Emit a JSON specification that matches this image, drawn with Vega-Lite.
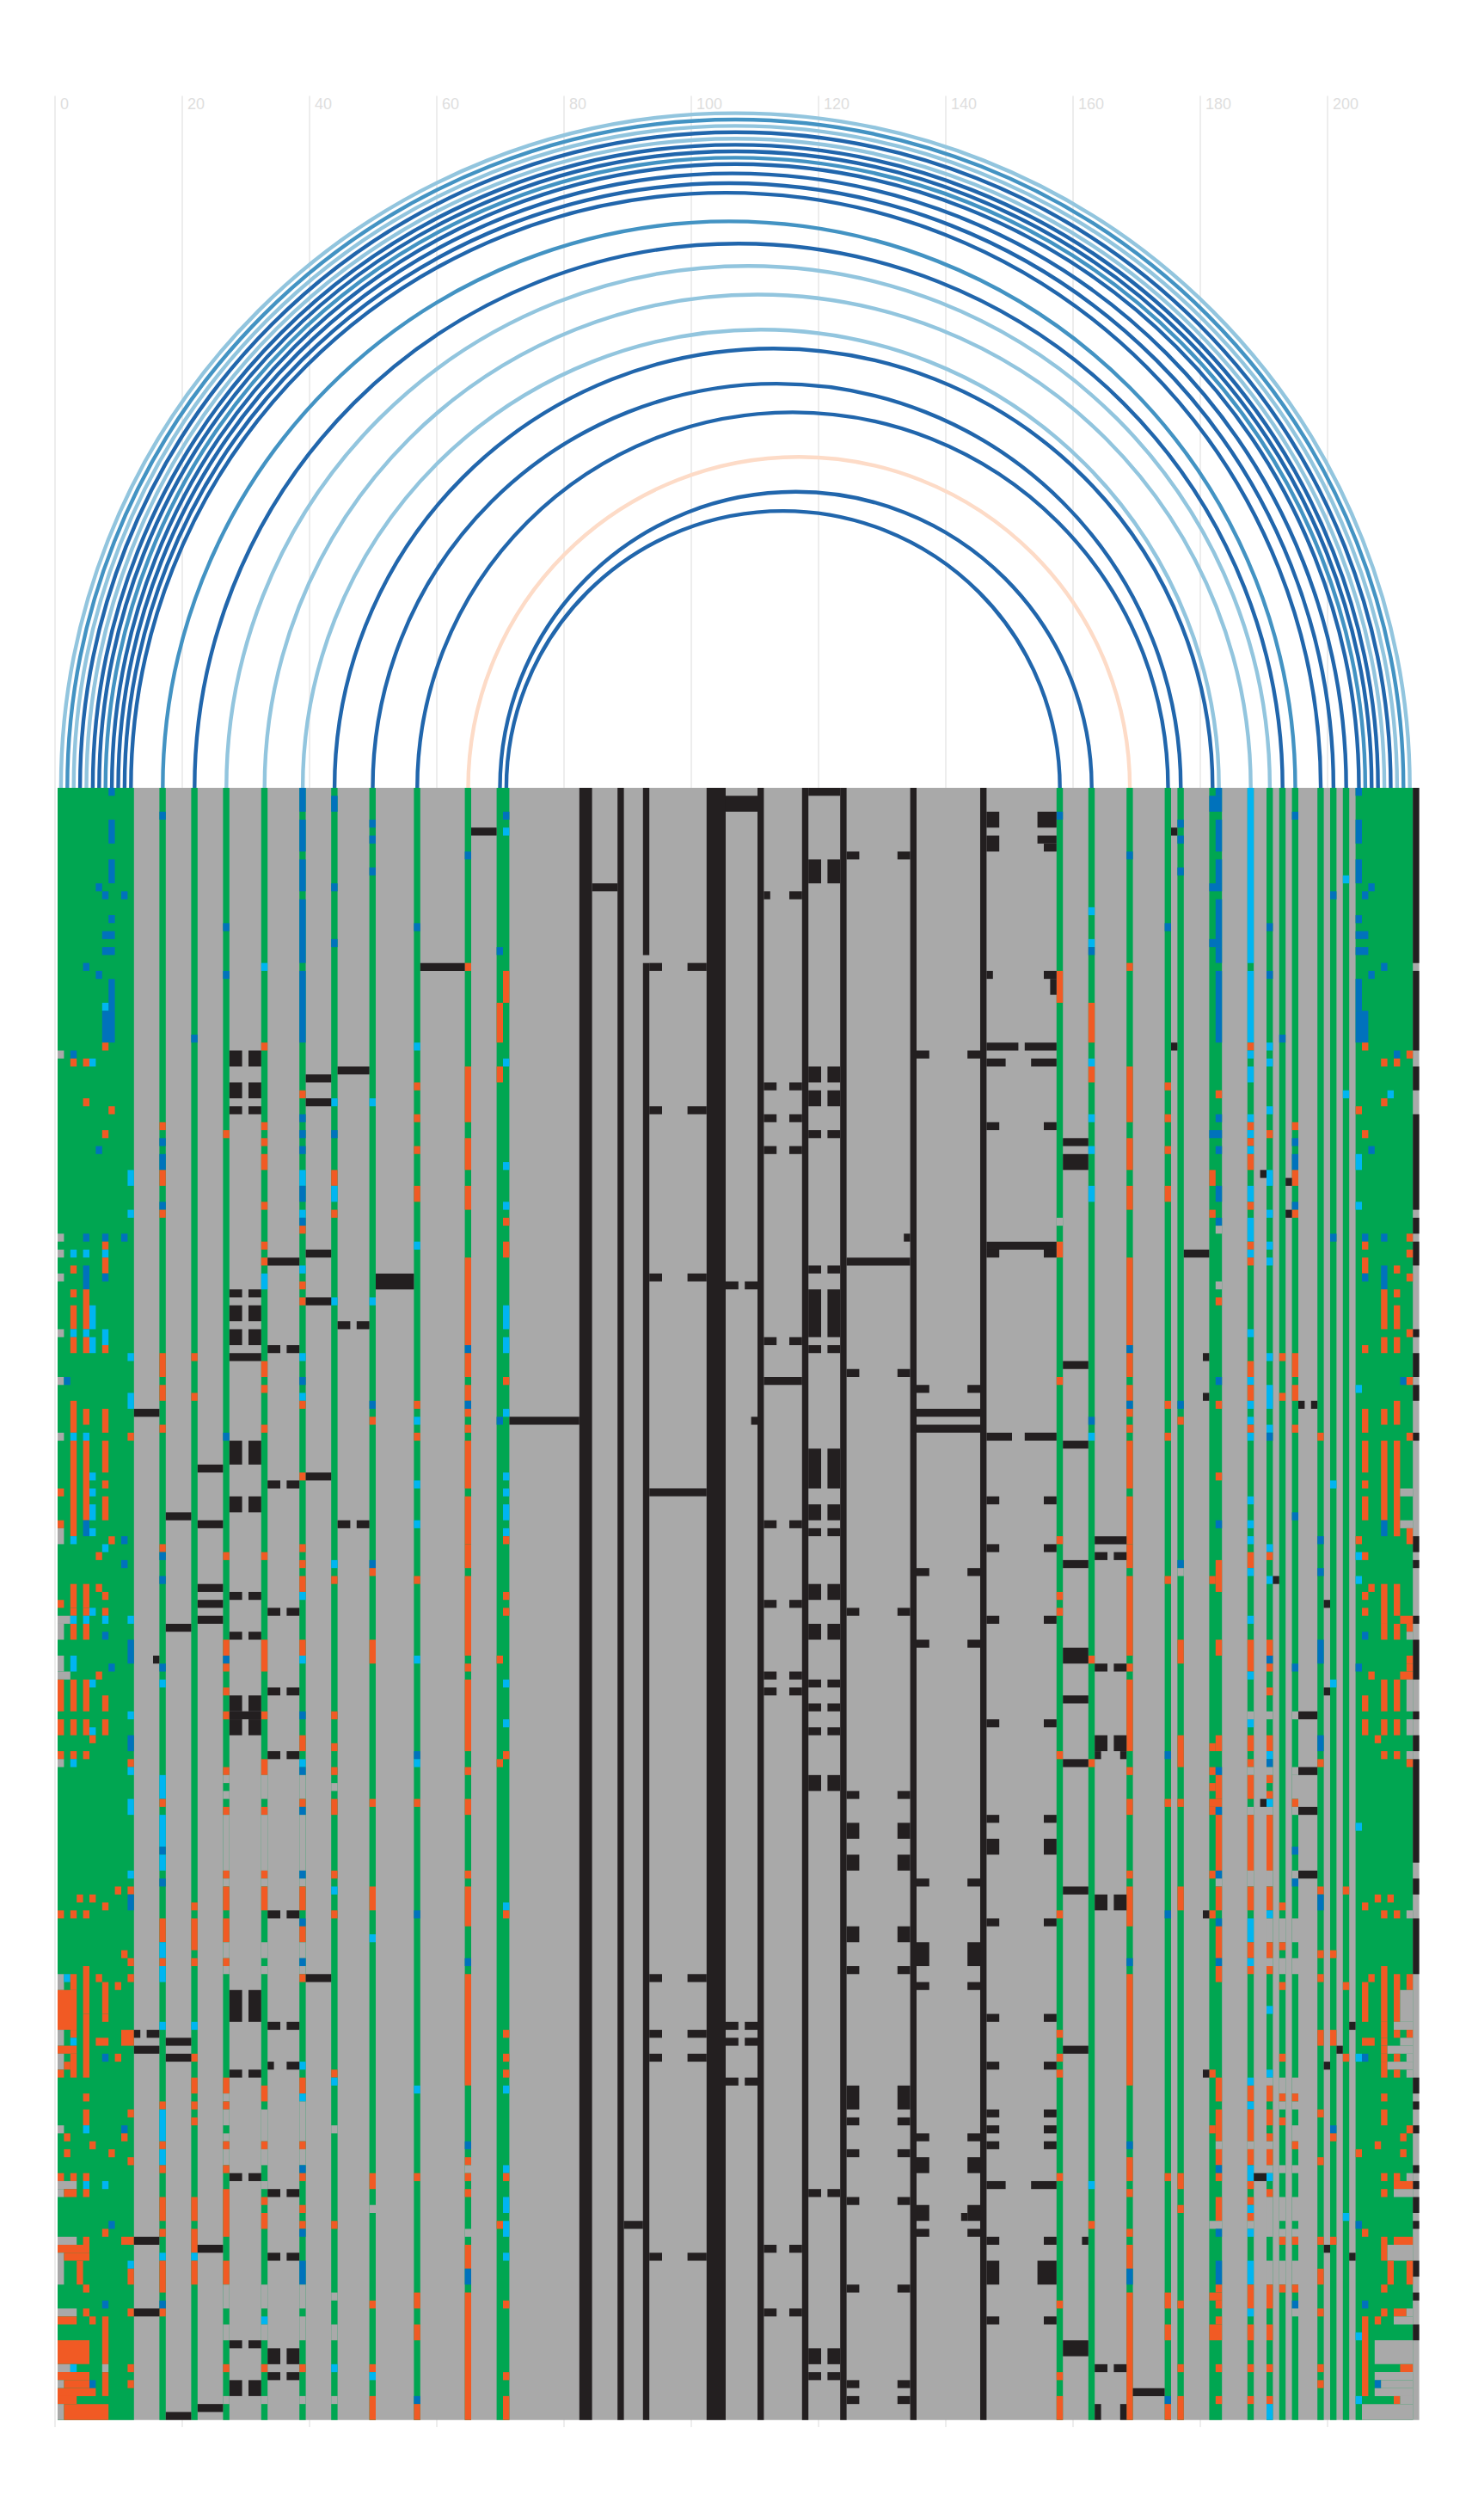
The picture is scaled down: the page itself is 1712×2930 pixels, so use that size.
{"$schema":"https://vega.github.io/schema/vega-lite/v6.json","autosize":{"type":"none"},"padding":{"left":63.5,"top":111,"right":0,"bottom":0},"width":1587.3,"height":2711,"background":"white","view":{"stroke":null},
"datasets":{"arcs":[
{"m":107,"r":106,"t":"l","y":0},{"m":107,"r":105,"t":"m","y":0},{"m":107,"r":104,"t":"l","y":0},{"m":107,"r":103,"t":"d","y":0},{"m":107,"r":102,"t":"l","y":0},{"m":107,"r":101,"t":"d","y":0},{"m":107,"r":100,"t":"d","y":0},{"m":107,"r":99,"t":"m","y":0},{"m":107,"r":98,"t":"d","y":0},{"m":106.5,"r":96.5,"t":"d","y":0},{"m":106,"r":95,"t":"d","y":0},{"m":105.5,"r":93.5,"t":"d","y":0},{"m":106,"r":89,"t":"m","y":0},{"m":107.5,"r":85.5,"t":"d","y":0},{"m":109,"r":82,"t":"l","y":0},{"m":110.5,"r":77.5,"t":"l","y":0},{"m":111,"r":72,"t":"l","y":0},{"m":113,"r":69,"t":"d","y":0},{"m":113.5,"r":63.5,"t":"d","y":0},{"m":116,"r":59,"t":"d","y":0},{"m":117,"r":52,"t":"p","y":0},{"m":116.5,"r":46.5,"t":"d","y":0},{"m":114.5,"r":43.5,"t":"d","y":0}],
"cells":[
{"x":0,"X":214,"y":0,"Y":205,"k":"a"},
{"x":0,"X":12,"y":0,"Y":205,"k":"g"},{"x":16,"X":17,"y":0,"Y":205,"k":"g"},{"x":21,"X":22,"y":0,"Y":205,"k":"g"},{"x":26,"X":27,"y":0,"Y":205,"k":"g"},{"x":32,"X":33,"y":0,"Y":205,"k":"g"},{"x":38,"X":39,"y":0,"Y":205,"k":"g"},{"x":43,"X":44,"y":0,"Y":205,"k":"g"},{"x":49,"X":50,"y":0,"Y":205,"k":"g"},{"x":56,"X":57,"y":0,"Y":205,"k":"g"},{"x":64,"X":65,"y":0,"Y":205,"k":"g"},{"x":69,"X":71,"y":0,"Y":205,"k":"g"},{"x":157,"X":158,"y":0,"Y":205,"k":"g"},{"x":162,"X":163,"y":0,"Y":205,"k":"g"},{"x":168,"X":169,"y":0,"Y":205,"k":"g"},{"x":174,"X":175,"y":0,"Y":205,"k":"g"},{"x":176,"X":177,"y":0,"Y":205,"k":"g"},{"x":181,"X":183,"y":0,"Y":205,"k":"g"},{"x":187,"X":188,"y":0,"Y":205,"k":"g"},{"x":190,"X":191,"y":0,"Y":205,"k":"g"},{"x":192,"X":193,"y":0,"Y":205,"k":"g"},{"x":194,"X":195,"y":0,"Y":205,"k":"g"},{"x":198,"X":199,"y":0,"Y":205,"k":"g"},{"x":200,"X":201,"y":0,"Y":205,"k":"g"},{"x":202,"X":203,"y":0,"Y":205,"k":"g"},{"x":204,"X":213,"y":0,"Y":205,"k":"g"},
{"x":82,"X":84,"y":0,"Y":205,"k":"k"},{"x":88,"X":89,"y":0,"Y":205,"k":"k"},{"x":92,"X":93,"y":0,"Y":21,"k":"k"},{"x":92,"X":93,"y":22,"Y":205,"k":"k"},{"x":102,"X":105,"y":0,"Y":205,"k":"k"},{"x":110,"X":111,"y":0,"Y":205,"k":"k"},{"x":117,"X":118,"y":0,"Y":205,"k":"k"},{"x":123,"X":124,"y":0,"Y":205,"k":"k"},{"x":134,"X":135,"y":0,"Y":205,"k":"k"},{"x":145,"X":146,"y":0,"Y":205,"k":"k"},
{"x":213,"X":214,"y":0,"Y":22,"k":"k"},{"x":213,"X":214,"y":23,"Y":33,"k":"k"},{"x":213,"X":214,"y":35,"Y":38,"k":"k"},{"x":213,"X":214,"y":41,"Y":53,"k":"k"},{"x":213,"X":214,"y":54,"Y":56,"k":"k"},{"x":213,"X":214,"y":57,"Y":60,"k":"k"},{"x":213,"X":214,"y":68,"Y":69,"k":"k"},{"x":213,"X":214,"y":71,"Y":74,"k":"k"},{"x":213,"X":214,"y":75,"Y":77,"k":"k"},{"x":213,"X":214,"y":81,"Y":82,"k":"k"},{"x":213,"X":214,"y":94,"Y":96,"k":"k"},{"x":213,"X":214,"y":97,"Y":98,"k":"k"},{"x":213,"X":214,"y":104,"Y":105,"k":"k"},{"x":213,"X":214,"y":107,"Y":112,"k":"k"},{"x":213,"X":214,"y":116,"Y":117,"k":"k"},{"x":213,"X":214,"y":119,"Y":121,"k":"k"},{"x":213,"X":214,"y":122,"Y":135,"k":"k"},{"x":213,"X":214,"y":137,"Y":139,"k":"k"},{"x":213,"X":214,"y":142,"Y":149,"k":"k"},{"x":213,"X":214,"y":162,"Y":164,"k":"k"},{"x":213,"X":214,"y":165,"Y":166,"k":"k"},{"x":213,"X":214,"y":168,"Y":169,"k":"k"},{"x":213,"X":214,"y":173,"Y":174,"k":"k"},{"x":213,"X":214,"y":175,"Y":176,"k":"k"},{"x":213,"X":214,"y":177,"Y":179,"k":"k"},{"x":213,"X":214,"y":180,"Y":181,"k":"k"},{"x":213,"X":214,"y":185,"Y":187,"k":"k"},{"x":213,"X":214,"y":189,"Y":190,"k":"k"},{"x":213,"X":214,"y":193,"Y":195,"k":"k"},
{"x":8,"X":9,"y":0,"Y":1,"k":"b"},{"x":8,"X":9,"y":4,"Y":7,"k":"b"},{"x":8,"X":9,"y":9,"Y":12,"k":"b"},{"x":6,"X":7,"y":12,"Y":13,"k":"b"},{"x":7,"X":8,"y":13,"Y":14,"k":"b"},{"x":10,"X":11,"y":13,"Y":14,"k":"b"},{"x":8,"X":9,"y":16,"Y":17,"k":"b"},{"x":7,"X":9,"y":18,"Y":19,"k":"b"},{"x":7,"X":9,"y":20,"Y":21,"k":"b"},{"x":4,"X":5,"y":22,"Y":23,"k":"b"},{"x":6,"X":7,"y":23,"Y":24,"k":"b"},{"x":8,"X":9,"y":24,"Y":28,"k":"b"},{"x":7,"X":8,"y":27,"Y":28,"k":"l"},{"x":7,"X":9,"y":28,"Y":32,"k":"b"},{"x":7,"X":8,"y":32,"Y":33,"k":"o"},{"x":0,"X":1,"y":33,"Y":34,"k":"a"},{"x":2,"X":3,"y":33,"Y":34,"k":"b"},{"x":2,"X":3,"y":34,"Y":35,"k":"o"},{"x":4,"X":5,"y":34,"Y":35,"k":"o"},{"x":5,"X":6,"y":34,"Y":35,"k":"l"},{"x":4,"X":5,"y":39,"Y":40,"k":"o"},{"x":8,"X":9,"y":40,"Y":41,"k":"o"},{"x":7,"X":8,"y":43,"Y":44,"k":"o"},{"x":6,"X":7,"y":45,"Y":46,"k":"b"},{"x":11,"X":12,"y":48,"Y":50,"k":"l"},{"x":11,"X":12,"y":53,"Y":54,"k":"l"},{"x":0,"X":1,"y":56,"Y":57,"k":"a"},{"x":4,"X":5,"y":56,"Y":57,"k":"b"},{"x":7,"X":8,"y":56,"Y":57,"k":"b"},{"x":10,"X":11,"y":56,"Y":57,"k":"b"},{"x":7,"X":8,"y":57,"Y":58,"k":"o"},{"x":0,"X":1,"y":58,"Y":59,"k":"a"},{"x":2,"X":3,"y":58,"Y":59,"k":"l"},{"x":4,"X":5,"y":58,"Y":59,"k":"l"},{"x":7,"X":8,"y":58,"Y":59,"k":"l"},{"x":7,"X":8,"y":59,"Y":61,"k":"o"},{"x":2,"X":3,"y":60,"Y":61,"k":"o"},{"x":4,"X":5,"y":60,"Y":63,"k":"b"},{"x":0,"X":1,"y":61,"Y":62,"k":"a"},{"x":7,"X":8,"y":61,"Y":62,"k":"b"},{"x":2,"X":3,"y":63,"Y":64,"k":"o"},{"x":4,"X":5,"y":63,"Y":68,"k":"o"},{"x":2,"X":3,"y":65,"Y":68,"k":"o"},{"x":5,"X":6,"y":65,"Y":68,"k":"l"},{"x":0,"X":1,"y":68,"Y":69,"k":"a"},{"x":2,"X":3,"y":68,"Y":69,"k":"l"},{"x":4,"X":5,"y":68,"Y":69,"k":"l"},{"x":7,"X":8,"y":68,"Y":70,"k":"l"},{"x":2,"X":3,"y":69,"Y":71,"k":"o"},{"x":4,"X":5,"y":69,"Y":71,"k":"o"},{"x":5,"X":6,"y":69,"Y":71,"k":"l"},{"x":7,"X":8,"y":70,"Y":71,"k":"o"},{"x":11,"X":12,"y":71,"Y":72,"k":"l"},{"x":0,"X":1,"y":74,"Y":75,"k":"a"},{"x":1,"X":2,"y":74,"Y":75,"k":"b"},{"x":11,"X":12,"y":76,"Y":78,"k":"l"},{"x":2,"X":3,"y":77,"Y":81,"k":"o"},{"x":4,"X":5,"y":78,"Y":80,"k":"o"},{"x":7,"X":8,"y":78,"Y":81,"k":"o"},{"x":0,"X":1,"y":81,"Y":82,"k":"a"},{"x":2,"X":3,"y":81,"Y":82,"k":"l"},{"x":4,"X":5,"y":81,"Y":82,"k":"l"},{"x":11,"X":12,"y":81,"Y":82,"k":"o"},{"x":2,"X":3,"y":82,"Y":94,"k":"o"},{"x":4,"X":5,"y":82,"Y":92,"k":"o"},{"x":7,"X":8,"y":82,"Y":86,"k":"o"},{"x":5,"X":6,"y":86,"Y":87,"k":"l"},{"x":7,"X":8,"y":87,"Y":88,"k":"o"},{"x":0,"X":1,"y":88,"Y":89,"k":"o"},{"x":5,"X":6,"y":88,"Y":89,"k":"l"},{"x":7,"X":8,"y":89,"Y":92,"k":"o"},{"x":5,"X":6,"y":90,"Y":92,"k":"l"},{"x":0,"X":1,"y":92,"Y":93,"k":"o"},{"x":4,"X":5,"y":92,"Y":94,"k":"b"},{"x":5,"X":6,"y":93,"Y":94,"k":"l"},{"x":0,"X":1,"y":93,"Y":95,"k":"a"},{"x":2,"X":3,"y":94,"Y":95,"k":"l"},{"x":8,"X":9,"y":94,"Y":95,"k":"o"},{"x":10,"X":11,"y":94,"Y":95,"k":"b"},{"x":7,"X":8,"y":95,"Y":96,"k":"l"},{"x":6,"X":7,"y":96,"Y":97,"k":"o"},{"x":10,"X":11,"y":97,"Y":98,"k":"b"},{"x":2,"X":3,"y":100,"Y":103,"k":"o"},{"x":4,"X":5,"y":100,"Y":103,"k":"o"},{"x":6,"X":7,"y":100,"Y":101,"k":"o"},{"x":7,"X":8,"y":101,"Y":102,"k":"o"},{"x":0,"X":1,"y":102,"Y":103,"k":"o"},{"x":2,"X":3,"y":103,"Y":104,"k":"o"},{"x":4,"X":5,"y":103,"Y":104,"k":"o"},{"x":5,"X":6,"y":103,"Y":104,"k":"l"},{"x":7,"X":8,"y":103,"Y":104,"k":"o"},{"x":0,"X":2,"y":104,"Y":105,"k":"a"},{"x":2,"X":3,"y":104,"Y":105,"k":"l"},{"x":4,"X":5,"y":104,"Y":105,"k":"l"},{"x":7,"X":8,"y":104,"Y":105,"k":"l"},{"x":11,"X":12,"y":104,"Y":105,"k":"l"},{"x":0,"X":1,"y":105,"Y":107,"k":"a"},{"x":2,"X":3,"y":105,"Y":107,"k":"o"},{"x":4,"X":5,"y":105,"Y":107,"k":"o"},{"x":7,"X":8,"y":106,"Y":107,"k":"b"},{"x":11,"X":12,"y":107,"Y":110,"k":"b"},{"x":0,"X":1,"y":109,"Y":111,"k":"a"},{"x":2,"X":3,"y":109,"Y":111,"k":"l"},{"x":8,"X":9,"y":110,"Y":111,"k":"b"},{"x":0,"X":2,"y":111,"Y":112,"k":"a"},{"x":6,"X":7,"y":111,"Y":112,"k":"o"},{"x":0,"X":1,"y":112,"Y":116,"k":"o"},{"x":2,"X":3,"y":112,"Y":116,"k":"o"},{"x":4,"X":5,"y":112,"Y":116,"k":"o"},{"x":5,"X":6,"y":112,"Y":113,"k":"l"},{"x":7,"X":8,"y":114,"Y":116,"k":"o"},{"x":11,"X":12,"y":116,"Y":117,"k":"l"},{"x":0,"X":1,"y":117,"Y":119,"k":"o"},{"x":2,"X":3,"y":117,"Y":119,"k":"o"},{"x":4,"X":5,"y":117,"Y":119,"k":"o"},{"x":7,"X":8,"y":117,"Y":119,"k":"o"},{"x":5,"X":6,"y":118,"Y":119,"k":"l"},{"x":5,"X":6,"y":119,"Y":120,"k":"o"},{"x":11,"X":12,"y":119,"Y":121,"k":"b"},{"x":0,"X":1,"y":121,"Y":122,"k":"o"},{"x":2,"X":3,"y":121,"Y":122,"k":"o"},{"x":4,"X":5,"y":121,"Y":122,"k":"o"},{"x":0,"X":1,"y":122,"Y":123,"k":"a"},{"x":2,"X":3,"y":122,"Y":123,"k":"l"},{"x":11,"X":12,"y":122,"Y":123,"k":"o"},{"x":11,"X":12,"y":123,"Y":124,"k":"l"},{"x":11,"X":12,"y":127,"Y":129,"k":"l"},{"x":11,"X":12,"y":136,"Y":137,"k":"l"},{"x":9,"X":10,"y":138,"Y":139,"k":"o"},{"x":11,"X":12,"y":138,"Y":139,"k":"o"},{"x":3,"X":4,"y":139,"Y":140,"k":"o"},{"x":5,"X":6,"y":139,"Y":140,"k":"o"},{"x":11,"X":12,"y":139,"Y":141,"k":"b"},{"x":7,"X":8,"y":140,"Y":141,"k":"o"},{"x":0,"X":1,"y":141,"Y":142,"k":"o"},{"x":2,"X":3,"y":141,"Y":142,"k":"o"},{"x":4,"X":5,"y":141,"Y":142,"k":"o"},{"x":10,"X":11,"y":146,"Y":147,"k":"o"},{"x":11,"X":12,"y":147,"Y":148,"k":"o"},{"x":4,"X":5,"y":148,"Y":154,"k":"o"},{"x":0,"X":1,"y":149,"Y":151,"k":"a"},{"x":1,"X":2,"y":149,"Y":150,"k":"l"},{"x":2,"X":3,"y":149,"Y":151,"k":"o"},{"x":6,"X":7,"y":149,"Y":150,"k":"o"},{"x":11,"X":12,"y":149,"Y":150,"k":"o"},{"x":7,"X":8,"y":150,"Y":154,"k":"o"},{"x":9,"X":10,"y":150,"Y":151,"k":"o"},{"x":0,"X":3,"y":151,"Y":156,"k":"o"},{"x":4,"X":5,"y":154,"Y":162,"k":"o"},{"x":7,"X":8,"y":154,"Y":155,"k":"o"},{"x":0,"X":1,"y":156,"Y":158,"k":"a"},{"x":2,"X":3,"y":156,"Y":157,"k":"o"},{"x":10,"X":12,"y":156,"Y":158,"k":"o"},{"x":2,"X":3,"y":157,"Y":158,"k":"l"},{"x":6,"X":8,"y":157,"Y":158,"k":"o"},{"x":0,"X":3,"y":158,"Y":159,"k":"o"},{"x":0,"X":1,"y":159,"Y":161,"k":"a"},{"x":2,"X":3,"y":159,"Y":162,"k":"o"},{"x":7,"X":8,"y":159,"Y":160,"k":"b"},{"x":9,"X":10,"y":159,"Y":160,"k":"o"},{"x":1,"X":2,"y":160,"Y":161,"k":"o"},{"x":0,"X":1,"y":161,"Y":162,"k":"o"},{"x":4,"X":5,"y":164,"Y":165,"k":"o"},{"x":4,"X":5,"y":166,"Y":168,"k":"o"},{"x":11,"X":12,"y":166,"Y":167,"k":"o"},{"x":0,"X":1,"y":168,"Y":169,"k":"a"},{"x":4,"X":5,"y":168,"Y":169,"k":"l"},{"x":10,"X":11,"y":168,"Y":169,"k":"b"},{"x":1,"X":2,"y":169,"Y":170,"k":"o"},{"x":10,"X":11,"y":169,"Y":170,"k":"o"},{"x":5,"X":6,"y":170,"Y":171,"k":"o"},{"x":1,"X":2,"y":171,"Y":172,"k":"o"},{"x":8,"X":9,"y":171,"Y":172,"k":"o"},{"x":11,"X":12,"y":172,"Y":173,"k":"o"},{"x":0,"X":1,"y":174,"Y":175,"k":"o"},{"x":2,"X":3,"y":174,"Y":175,"k":"o"},{"x":4,"X":5,"y":174,"Y":175,"k":"o"},{"x":0,"X":3,"y":175,"Y":176,"k":"a"},{"x":4,"X":5,"y":175,"Y":176,"k":"l"},{"x":7,"X":8,"y":175,"Y":176,"k":"l"},{"x":0,"X":1,"y":176,"Y":177,"k":"a"},{"x":1,"X":3,"y":176,"Y":177,"k":"o"},{"x":4,"X":5,"y":176,"Y":177,"k":"o"},{"x":8,"X":9,"y":180,"Y":181,"k":"b"},{"x":7,"X":8,"y":181,"Y":182,"k":"o"},{"x":0,"X":3,"y":182,"Y":183,"k":"a"},{"x":4,"X":5,"y":182,"Y":183,"k":"o"},{"x":10,"X":12,"y":182,"Y":183,"k":"o"},{"x":0,"X":5,"y":183,"Y":184,"k":"o"},{"x":0,"X":1,"y":184,"Y":188,"k":"a"},{"x":1,"X":5,"y":184,"Y":185,"k":"o"},{"x":3,"X":4,"y":185,"Y":188,"k":"o"},{"x":11,"X":12,"y":185,"Y":186,"k":"l"},{"x":11,"X":12,"y":186,"Y":188,"k":"o"},{"x":4,"X":5,"y":188,"Y":189,"k":"o"},{"x":7,"X":8,"y":190,"Y":191,"k":"b"},{"x":0,"X":3,"y":191,"Y":192,"k":"a"},{"x":4,"X":5,"y":191,"Y":192,"k":"o"},{"x":11,"X":12,"y":191,"Y":192,"k":"o"},{"x":0,"X":3,"y":192,"Y":193,"k":"o"},{"x":5,"X":6,"y":192,"Y":193,"k":"o"},{"x":7,"X":8,"y":192,"Y":198,"k":"o"},{"x":0,"X":5,"y":195,"Y":198,"k":"o"},{"x":0,"X":2,"y":198,"Y":199,"k":"a"},{"x":2,"X":3,"y":198,"Y":199,"k":"l"},{"x":7,"X":8,"y":198,"Y":199,"k":"a"},{"x":11,"X":12,"y":198,"Y":199,"k":"o"},{"x":0,"X":5,"y":199,"Y":200,"k":"o"},{"x":7,"X":8,"y":199,"Y":202,"k":"o"},{"x":0,"X":1,"y":200,"Y":201,"k":"a"},{"x":1,"X":5,"y":200,"Y":201,"k":"o"},{"x":5,"X":6,"y":200,"Y":201,"k":"b"},{"x":11,"X":12,"y":200,"Y":201,"k":"o"},{"x":0,"X":6,"y":201,"Y":202,"k":"o"},{"x":0,"X":3,"y":202,"Y":203,"k":"o"},{"x":0,"X":1,"y":203,"Y":205,"k":"a"},{"x":1,"X":8,"y":203,"Y":205,"k":"o"},
{"x":204,"X":205,"y":0,"Y":1,"k":"b"},{"x":204,"X":205,"y":4,"Y":7,"k":"b"},{"x":204,"X":205,"y":9,"Y":12,"k":"b"},{"x":206,"X":207,"y":12,"Y":13,"k":"b"},{"x":205,"X":206,"y":13,"Y":14,"k":"b"},{"x":204,"X":205,"y":16,"Y":17,"k":"b"},{"x":204,"X":206,"y":18,"Y":19,"k":"b"},{"x":204,"X":206,"y":20,"Y":21,"k":"b"},{"x":208,"X":209,"y":22,"Y":23,"k":"b"},{"x":206,"X":207,"y":23,"Y":24,"k":"b"},{"x":204,"X":205,"y":24,"Y":28,"k":"b"},{"x":204,"X":206,"y":28,"Y":32,"k":"b"},{"x":205,"X":206,"y":32,"Y":33,"k":"o"},{"x":210,"X":211,"y":33,"Y":34,"k":"b"},{"x":212,"X":213,"y":33,"Y":34,"k":"o"},{"x":208,"X":209,"y":34,"Y":35,"k":"o"},{"x":210,"X":211,"y":34,"Y":35,"k":"o"},{"x":209,"X":210,"y":38,"Y":39,"k":"l"},{"x":208,"X":209,"y":39,"Y":40,"k":"o"},{"x":204,"X":205,"y":40,"Y":41,"k":"o"},{"x":205,"X":206,"y":43,"Y":44,"k":"o"},{"x":206,"X":207,"y":45,"Y":46,"k":"b"},{"x":204,"X":205,"y":46,"Y":48,"k":"l"},{"x":204,"X":205,"y":52,"Y":53,"k":"l"},{"x":205,"X":206,"y":56,"Y":57,"k":"b"},{"x":208,"X":209,"y":56,"Y":57,"k":"b"},{"x":212,"X":213,"y":56,"Y":57,"k":"o"},{"x":205,"X":206,"y":57,"Y":58,"k":"o"},{"x":212,"X":213,"y":58,"Y":59,"k":"o"},{"x":205,"X":206,"y":59,"Y":61,"k":"o"},{"x":210,"X":211,"y":60,"Y":61,"k":"o"},{"x":208,"X":209,"y":60,"Y":63,"k":"b"},{"x":205,"X":206,"y":61,"Y":62,"k":"b"},{"x":212,"X":213,"y":61,"Y":62,"k":"o"},{"x":208,"X":209,"y":63,"Y":68,"k":"o"},{"x":210,"X":211,"y":63,"Y":64,"k":"o"},{"x":210,"X":211,"y":65,"Y":68,"k":"o"},{"x":212,"X":213,"y":68,"Y":69,"k":"o"},{"x":208,"X":209,"y":69,"Y":71,"k":"o"},{"x":210,"X":211,"y":69,"Y":71,"k":"o"},{"x":205,"X":206,"y":70,"Y":71,"k":"o"},{"x":211,"X":212,"y":74,"Y":75,"k":"b"},{"x":212,"X":213,"y":74,"Y":75,"k":"o"},{"x":204,"X":205,"y":75,"Y":76,"k":"l"},{"x":210,"X":211,"y":77,"Y":80,"k":"o"},{"x":205,"X":206,"y":78,"Y":81,"k":"o"},{"x":208,"X":209,"y":78,"Y":80,"k":"o"},{"x":212,"X":213,"y":81,"Y":82,"k":"o"},{"x":205,"X":206,"y":82,"Y":86,"k":"o"},{"x":208,"X":209,"y":82,"Y":92,"k":"o"},{"x":210,"X":211,"y":82,"Y":94,"k":"o"},{"x":205,"X":206,"y":87,"Y":88,"k":"o"},{"x":211,"X":213,"y":88,"Y":89,"k":"a"},{"x":205,"X":206,"y":89,"Y":92,"k":"o"},{"x":208,"X":209,"y":92,"Y":94,"k":"b"},{"x":211,"X":213,"y":92,"Y":93,"k":"a"},{"x":212,"X":213,"y":93,"Y":95,"k":"o"},{"x":204,"X":205,"y":94,"Y":95,"k":"o"},{"x":204,"X":205,"y":96,"Y":97,"k":"l"},{"x":205,"X":206,"y":96,"Y":97,"k":"o"},{"x":204,"X":205,"y":99,"Y":100,"k":"l"},{"x":206,"X":207,"y":100,"Y":101,"k":"o"},{"x":208,"X":209,"y":100,"Y":105,"k":"o"},{"x":210,"X":211,"y":100,"Y":104,"k":"o"},{"x":205,"X":206,"y":101,"Y":102,"k":"o"},{"x":205,"X":206,"y":103,"Y":104,"k":"o"},{"x":211,"X":213,"y":104,"Y":105,"k":"o"},{"x":210,"X":211,"y":105,"Y":107,"k":"o"},{"x":212,"X":213,"y":105,"Y":106,"k":"o"},{"x":208,"X":209,"y":105,"Y":107,"k":"o"},{"x":205,"X":206,"y":106,"Y":107,"k":"b"},{"x":212,"X":213,"y":106,"Y":107,"k":"a"},{"x":212,"X":213,"y":109,"Y":110,"k":"o"},{"x":204,"X":205,"y":110,"Y":111,"k":"b"},{"x":212,"X":213,"y":110,"Y":111,"k":"o"},{"x":206,"X":207,"y":111,"Y":112,"k":"o"},{"x":211,"X":213,"y":111,"Y":112,"k":"o"},{"x":208,"X":209,"y":112,"Y":116,"k":"o"},{"x":210,"X":211,"y":112,"Y":116,"k":"o"},{"x":212,"X":213,"y":112,"Y":116,"k":"a"},{"x":205,"X":206,"y":114,"Y":116,"k":"o"},{"x":205,"X":206,"y":117,"Y":119,"k":"o"},{"x":208,"X":209,"y":117,"Y":119,"k":"o"},{"x":210,"X":211,"y":117,"Y":119,"k":"o"},{"x":212,"X":213,"y":117,"Y":119,"k":"a"},{"x":207,"X":208,"y":119,"Y":120,"k":"o"},{"x":208,"X":209,"y":121,"Y":122,"k":"o"},{"x":210,"X":211,"y":121,"Y":122,"k":"o"},{"x":212,"X":213,"y":121,"Y":122,"k":"a"},{"x":212,"X":213,"y":122,"Y":123,"k":"o"},{"x":204,"X":205,"y":130,"Y":131,"k":"l"},{"x":207,"X":208,"y":139,"Y":140,"k":"o"},{"x":209,"X":210,"y":139,"Y":140,"k":"o"},{"x":205,"X":206,"y":140,"Y":141,"k":"o"},{"x":208,"X":209,"y":141,"Y":142,"k":"o"},{"x":210,"X":211,"y":141,"Y":142,"k":"o"},{"x":212,"X":213,"y":141,"Y":142,"k":"a"},{"x":208,"X":209,"y":148,"Y":155,"k":"o"},{"x":206,"X":207,"y":149,"Y":150,"k":"o"},{"x":210,"X":211,"y":149,"Y":155,"k":"o"},{"x":212,"X":213,"y":149,"Y":151,"k":"o"},{"x":205,"X":206,"y":150,"Y":155,"k":"o"},{"x":211,"X":213,"y":151,"Y":155,"k":"a"},{"x":208,"X":209,"y":155,"Y":157,"k":"o"},{"x":210,"X":213,"y":155,"Y":156,"k":"a"},{"x":210,"X":211,"y":156,"Y":157,"k":"o"},{"x":212,"X":213,"y":156,"Y":157,"k":"o"},{"x":205,"X":207,"y":157,"Y":158,"k":"o"},{"x":208,"X":209,"y":157,"Y":158,"k":"o"},{"x":211,"X":213,"y":157,"Y":158,"k":"a"},{"x":208,"X":209,"y":158,"Y":159,"k":"o"},{"x":209,"X":213,"y":158,"Y":159,"k":"a"},{"x":204,"X":205,"y":159,"Y":160,"k":"l"},{"x":205,"X":206,"y":159,"Y":160,"k":"b"},{"x":208,"X":209,"y":159,"Y":160,"k":"o"},{"x":210,"X":211,"y":159,"Y":160,"k":"o"},{"x":212,"X":213,"y":159,"Y":160,"k":"a"},{"x":208,"X":209,"y":160,"Y":162,"k":"o"},{"x":209,"X":213,"y":160,"Y":161,"k":"a"},{"x":210,"X":211,"y":161,"Y":162,"k":"o"},{"x":212,"X":213,"y":161,"Y":162,"k":"a"},{"x":208,"X":209,"y":164,"Y":165,"k":"o"},{"x":208,"X":209,"y":166,"Y":168,"k":"o"},{"x":212,"X":213,"y":168,"Y":169,"k":"o"},{"x":211,"X":212,"y":169,"Y":170,"k":"o"},{"x":207,"X":208,"y":170,"Y":171,"k":"o"},{"x":204,"X":205,"y":171,"Y":172,"k":"o"},{"x":211,"X":212,"y":171,"Y":172,"k":"o"},{"x":208,"X":209,"y":174,"Y":175,"k":"o"},{"x":210,"X":211,"y":174,"Y":175,"k":"o"},{"x":212,"X":213,"y":174,"Y":175,"k":"a"},{"x":210,"X":213,"y":175,"Y":176,"k":"o"},{"x":208,"X":209,"y":176,"Y":177,"k":"o"},{"x":210,"X":213,"y":176,"Y":177,"k":"a"},{"x":204,"X":205,"y":180,"Y":181,"k":"b"},{"x":205,"X":206,"y":181,"Y":182,"k":"o"},{"x":208,"X":209,"y":182,"Y":185,"k":"o"},{"x":210,"X":213,"y":182,"Y":183,"k":"o"},{"x":209,"X":213,"y":183,"Y":185,"k":"a"},{"x":209,"X":210,"y":185,"Y":188,"k":"o"},{"x":212,"X":213,"y":185,"Y":188,"k":"o"},{"x":208,"X":209,"y":188,"Y":189,"k":"o"},{"x":205,"X":206,"y":190,"Y":191,"k":"b"},{"x":208,"X":209,"y":191,"Y":192,"k":"o"},{"x":210,"X":212,"y":191,"Y":192,"k":"o"},{"x":212,"X":213,"y":191,"Y":192,"k":"a"},{"x":205,"X":206,"y":192,"Y":202,"k":"o"},{"x":207,"X":208,"y":192,"Y":193,"k":"o"},{"x":210,"X":213,"y":192,"Y":193,"k":"a"},{"x":204,"X":205,"y":194,"Y":195,"k":"l"},{"x":207,"X":213,"y":195,"Y":198,"k":"a"},{"x":211,"X":213,"y":198,"Y":199,"k":"o"},{"x":207,"X":213,"y":199,"Y":200,"k":"a"},{"x":207,"X":208,"y":200,"Y":201,"k":"b"},{"x":208,"X":213,"y":200,"Y":201,"k":"a"},{"x":207,"X":213,"y":201,"Y":202,"k":"a"},{"x":204,"X":205,"y":202,"Y":203,"k":"l"},{"x":210,"X":211,"y":202,"Y":203,"k":"o"},{"x":211,"X":213,"y":202,"Y":203,"k":"a"},{"x":205,"X":213,"y":203,"Y":205,"k":"a"},
{"x":16,"X":17,"y":3,"Y":4,"k":"b"},{"x":16,"X":17,"y":42,"Y":43,"k":"o"},{"x":16,"X":17,"y":44,"Y":45,"k":"b"},{"x":16,"X":17,"y":46,"Y":48,"k":"b"},{"x":16,"X":17,"y":48,"Y":50,"k":"o"},{"x":16,"X":17,"y":52,"Y":53,"k":"b"},{"x":16,"X":17,"y":53,"Y":54,"k":"o"},{"x":16,"X":17,"y":71,"Y":74,"k":"o"},{"x":16,"X":17,"y":75,"Y":77,"k":"o"},{"x":16,"X":17,"y":80,"Y":81,"k":"o"},{"x":16,"X":17,"y":95,"Y":96,"k":"o"},{"x":16,"X":17,"y":96,"Y":97,"k":"b"},{"x":16,"X":17,"y":99,"Y":100,"k":"b"},{"x":16,"X":17,"y":110,"Y":111,"k":"b"},{"x":16,"X":17,"y":112,"Y":113,"k":"l"},{"x":16,"X":17,"y":124,"Y":127,"k":"l"},{"x":16,"X":17,"y":127,"Y":128,"k":"o"},{"x":16,"X":17,"y":129,"Y":133,"k":"l"},{"x":16,"X":17,"y":133,"Y":134,"k":"b"},{"x":16,"X":17,"y":134,"Y":136,"k":"l"},{"x":16,"X":17,"y":137,"Y":138,"k":"b"},{"x":16,"X":17,"y":142,"Y":145,"k":"o"},{"x":16,"X":17,"y":145,"Y":147,"k":"l"},{"x":16,"X":17,"y":147,"Y":148,"k":"o"},{"x":16,"X":17,"y":148,"Y":150,"k":"l"},{"x":16,"X":17,"y":155,"Y":156,"k":"l"},{"x":16,"X":17,"y":165,"Y":166,"k":"o"},{"x":16,"X":17,"y":166,"Y":170,"k":"l"},{"x":16,"X":17,"y":170,"Y":171,"k":"o"},{"x":16,"X":17,"y":171,"Y":173,"k":"l"},{"x":16,"X":17,"y":173,"Y":174,"k":"o"},{"x":16,"X":17,"y":177,"Y":180,"k":"o"},{"x":16,"X":17,"y":181,"Y":182,"k":"o"},{"x":16,"X":17,"y":184,"Y":185,"k":"l"},{"x":16,"X":17,"y":185,"Y":189,"k":"o"},{"x":16,"X":17,"y":190,"Y":191,"k":"b"},{"x":16,"X":17,"y":191,"Y":192,"k":"o"},
{"x":21,"X":22,"y":31,"Y":32,"k":"b"},{"x":21,"X":22,"y":71,"Y":72,"k":"o"},{"x":21,"X":22,"y":76,"Y":77,"k":"o"},{"x":21,"X":22,"y":140,"Y":141,"k":"o"},{"x":21,"X":22,"y":142,"Y":146,"k":"o"},{"x":21,"X":22,"y":147,"Y":148,"k":"o"},{"x":21,"X":22,"y":155,"Y":156,"k":"l"},{"x":21,"X":22,"y":159,"Y":160,"k":"o"},{"x":21,"X":22,"y":162,"Y":164,"k":"o"},{"x":21,"X":22,"y":165,"Y":166,"k":"o"},{"x":21,"X":22,"y":167,"Y":168,"k":"o"},{"x":21,"X":22,"y":177,"Y":180,"k":"o"},{"x":21,"X":22,"y":181,"Y":184,"k":"o"},{"x":21,"X":22,"y":184,"Y":185,"k":"l"},{"x":21,"X":22,"y":185,"Y":188,"k":"o"},
{"x":26,"X":27,"y":17,"Y":18,"k":"b"},{"x":26,"X":27,"y":23,"Y":24,"k":"b"},{"x":26,"X":27,"y":43,"Y":44,"k":"o"},{"x":26,"X":27,"y":81,"Y":82,"k":"b"},{"x":26,"X":27,"y":96,"Y":97,"k":"o"},{"x":26,"X":27,"y":107,"Y":109,"k":"o"},{"x":26,"X":27,"y":109,"Y":110,"k":"b"},{"x":26,"X":27,"y":110,"Y":111,"k":"o"},{"x":26,"X":27,"y":113,"Y":114,"k":"o"},{"x":26,"X":27,"y":116,"Y":117,"k":"o"},{"x":26,"X":27,"y":123,"Y":124,"k":"o"},{"x":26,"X":27,"y":124,"Y":125,"k":"a"},{"x":26,"X":27,"y":126,"Y":127,"k":"a"},{"x":26,"X":27,"y":128,"Y":129,"k":"o"},{"x":26,"X":27,"y":129,"Y":136,"k":"a"},{"x":26,"X":27,"y":136,"Y":137,"k":"o"},{"x":26,"X":27,"y":137,"Y":138,"k":"a"},{"x":26,"X":27,"y":138,"Y":141,"k":"o"},{"x":26,"X":27,"y":142,"Y":145,"k":"o"},{"x":26,"X":27,"y":145,"Y":147,"k":"a"},{"x":26,"X":27,"y":147,"Y":148,"k":"o"},{"x":26,"X":27,"y":148,"Y":149,"k":"a"},{"x":26,"X":27,"y":162,"Y":164,"k":"o"},{"x":26,"X":27,"y":164,"Y":165,"k":"a"},{"x":26,"X":27,"y":165,"Y":166,"k":"o"},{"x":26,"X":27,"y":166,"Y":168,"k":"a"},{"x":26,"X":27,"y":169,"Y":170,"k":"a"},{"x":26,"X":27,"y":170,"Y":171,"k":"o"},{"x":26,"X":27,"y":171,"Y":173,"k":"a"},{"x":26,"X":27,"y":173,"Y":174,"k":"o"},{"x":26,"X":27,"y":176,"Y":182,"k":"o"},{"x":26,"X":27,"y":185,"Y":188,"k":"o"},{"x":26,"X":27,"y":188,"Y":191,"k":"a"},{"x":26,"X":27,"y":193,"Y":195,"k":"a"},{"x":26,"X":27,"y":198,"Y":199,"k":"o"},{"x":26,"X":27,"y":202,"Y":203,"k":"a"},
{"x":32,"X":33,"y":22,"Y":23,"k":"l"},{"x":32,"X":33,"y":32,"Y":33,"k":"o"},{"x":32,"X":33,"y":42,"Y":43,"k":"o"},{"x":32,"X":33,"y":44,"Y":45,"k":"o"},{"x":32,"X":33,"y":46,"Y":48,"k":"o"},{"x":32,"X":33,"y":52,"Y":53,"k":"o"},{"x":32,"X":33,"y":57,"Y":58,"k":"o"},{"x":32,"X":33,"y":59,"Y":60,"k":"o"},{"x":32,"X":33,"y":61,"Y":63,"k":"l"},{"x":32,"X":33,"y":72,"Y":74,"k":"o"},{"x":32,"X":33,"y":75,"Y":76,"k":"o"},{"x":32,"X":33,"y":80,"Y":81,"k":"o"},{"x":32,"X":33,"y":96,"Y":97,"k":"o"},{"x":32,"X":33,"y":107,"Y":111,"k":"o"},{"x":32,"X":33,"y":116,"Y":117,"k":"o"},{"x":32,"X":33,"y":122,"Y":124,"k":"o"},{"x":32,"X":33,"y":124,"Y":127,"k":"a"},{"x":32,"X":33,"y":128,"Y":129,"k":"o"},{"x":32,"X":33,"y":129,"Y":136,"k":"a"},{"x":32,"X":33,"y":136,"Y":137,"k":"o"},{"x":32,"X":33,"y":137,"Y":138,"k":"a"},{"x":32,"X":33,"y":138,"Y":141,"k":"o"},{"x":32,"X":33,"y":145,"Y":147,"k":"a"},{"x":32,"X":33,"y":148,"Y":149,"k":"a"},{"x":32,"X":33,"y":163,"Y":165,"k":"o"},{"x":32,"X":33,"y":166,"Y":170,"k":"a"},{"x":32,"X":33,"y":170,"Y":171,"k":"o"},{"x":32,"X":33,"y":171,"Y":173,"k":"a"},{"x":32,"X":33,"y":175,"Y":176,"k":"a"},{"x":32,"X":33,"y":177,"Y":178,"k":"o"},{"x":32,"X":33,"y":179,"Y":181,"k":"o"},{"x":32,"X":33,"y":188,"Y":191,"k":"a"},{"x":32,"X":33,"y":192,"Y":193,"k":"l"},{"x":32,"X":33,"y":193,"Y":195,"k":"a"},{"x":32,"X":33,"y":198,"Y":199,"k":"o"},{"x":32,"X":33,"y":202,"Y":203,"k":"a"},
{"x":38,"X":39,"y":0,"Y":3,"k":"b"},{"x":38,"X":39,"y":4,"Y":8,"k":"b"},{"x":38,"X":39,"y":9,"Y":13,"k":"b"},{"x":38,"X":39,"y":14,"Y":22,"k":"b"},{"x":38,"X":39,"y":23,"Y":32,"k":"b"},{"x":38,"X":39,"y":38,"Y":39,"k":"o"},{"x":38,"X":39,"y":41,"Y":42,"k":"b"},{"x":38,"X":39,"y":43,"Y":44,"k":"b"},{"x":38,"X":39,"y":45,"Y":46,"k":"b"},{"x":38,"X":39,"y":48,"Y":50,"k":"l"},{"x":38,"X":39,"y":50,"Y":52,"k":"b"},{"x":38,"X":39,"y":53,"Y":54,"k":"l"},{"x":38,"X":39,"y":54,"Y":55,"k":"b"},{"x":38,"X":39,"y":55,"Y":56,"k":"o"},{"x":38,"X":39,"y":60,"Y":61,"k":"l"},{"x":38,"X":39,"y":62,"Y":63,"k":"o"},{"x":38,"X":39,"y":64,"Y":65,"k":"o"},{"x":38,"X":39,"y":71,"Y":72,"k":"l"},{"x":38,"X":39,"y":74,"Y":75,"k":"b"},{"x":38,"X":39,"y":76,"Y":77,"k":"l"},{"x":38,"X":39,"y":77,"Y":78,"k":"o"},{"x":38,"X":39,"y":86,"Y":87,"k":"o"},{"x":38,"X":39,"y":95,"Y":96,"k":"o"},{"x":38,"X":39,"y":97,"Y":98,"k":"o"},{"x":38,"X":39,"y":99,"Y":101,"k":"o"},{"x":38,"X":39,"y":101,"Y":102,"k":"l"},{"x":38,"X":39,"y":107,"Y":109,"k":"o"},{"x":38,"X":39,"y":109,"Y":110,"k":"l"},{"x":38,"X":39,"y":116,"Y":117,"k":"b"},{"x":38,"X":39,"y":119,"Y":121,"k":"o"},{"x":38,"X":39,"y":122,"Y":123,"k":"l"},{"x":38,"X":39,"y":123,"Y":124,"k":"b"},{"x":38,"X":39,"y":124,"Y":127,"k":"a"},{"x":38,"X":39,"y":127,"Y":128,"k":"o"},{"x":38,"X":39,"y":128,"Y":129,"k":"b"},{"x":38,"X":39,"y":129,"Y":136,"k":"a"},{"x":38,"X":39,"y":136,"Y":137,"k":"b"},{"x":38,"X":39,"y":137,"Y":138,"k":"a"},{"x":38,"X":39,"y":138,"Y":141,"k":"o"},{"x":38,"X":39,"y":142,"Y":143,"k":"b"},{"x":38,"X":39,"y":143,"Y":145,"k":"o"},{"x":38,"X":39,"y":145,"Y":147,"k":"a"},{"x":38,"X":39,"y":147,"Y":148,"k":"b"},{"x":38,"X":39,"y":148,"Y":149,"k":"a"},{"x":38,"X":39,"y":149,"Y":150,"k":"o"},{"x":38,"X":39,"y":160,"Y":161,"k":"l"},{"x":38,"X":39,"y":162,"Y":164,"k":"o"},{"x":38,"X":39,"y":164,"Y":165,"k":"l"},{"x":38,"X":39,"y":165,"Y":170,"k":"a"},{"x":38,"X":39,"y":170,"Y":171,"k":"o"},{"x":38,"X":39,"y":171,"Y":173,"k":"a"},{"x":38,"X":39,"y":173,"Y":174,"k":"b"},{"x":38,"X":39,"y":174,"Y":175,"k":"o"},{"x":38,"X":39,"y":178,"Y":179,"k":"o"},{"x":38,"X":39,"y":180,"Y":181,"k":"o"},{"x":38,"X":39,"y":181,"Y":182,"k":"b"},{"x":38,"X":39,"y":185,"Y":188,"k":"b"},{"x":38,"X":39,"y":188,"Y":191,"k":"a"},{"x":38,"X":39,"y":192,"Y":195,"k":"a"},{"x":38,"X":39,"y":198,"Y":199,"k":"o"},{"x":38,"X":39,"y":202,"Y":203,"k":"a"},
{"x":43,"X":44,"y":1,"Y":3,"k":"b"},{"x":43,"X":44,"y":12,"Y":13,"k":"b"},{"x":43,"X":44,"y":19,"Y":20,"k":"b"},{"x":43,"X":44,"y":39,"Y":40,"k":"l"},{"x":43,"X":44,"y":43,"Y":44,"k":"b"},{"x":43,"X":44,"y":48,"Y":50,"k":"o"},{"x":43,"X":44,"y":50,"Y":52,"k":"l"},{"x":43,"X":44,"y":53,"Y":54,"k":"o"},{"x":43,"X":44,"y":64,"Y":65,"k":"l"},{"x":43,"X":44,"y":97,"Y":98,"k":"l"},{"x":43,"X":44,"y":99,"Y":100,"k":"o"},{"x":43,"X":44,"y":116,"Y":117,"k":"o"},{"x":43,"X":44,"y":120,"Y":121,"k":"o"},{"x":43,"X":44,"y":123,"Y":124,"k":"o"},{"x":43,"X":44,"y":125,"Y":126,"k":"a"},{"x":43,"X":44,"y":127,"Y":129,"k":"o"},{"x":43,"X":44,"y":136,"Y":137,"k":"o"},{"x":43,"X":44,"y":138,"Y":139,"k":"l"},{"x":43,"X":44,"y":141,"Y":142,"k":"o"},{"x":43,"X":44,"y":161,"Y":162,"k":"o"},{"x":43,"X":44,"y":162,"Y":163,"k":"l"},{"x":43,"X":44,"y":168,"Y":169,"k":"a"},{"x":43,"X":44,"y":180,"Y":181,"k":"o"},{"x":43,"X":44,"y":189,"Y":190,"k":"a"},{"x":43,"X":44,"y":193,"Y":195,"k":"a"},{"x":43,"X":44,"y":198,"Y":199,"k":"l"},{"x":43,"X":44,"y":202,"Y":203,"k":"a"},
{"x":49,"X":50,"y":4,"Y":5,"k":"b"},{"x":49,"X":50,"y":6,"Y":7,"k":"b"},{"x":49,"X":50,"y":10,"Y":11,"k":"b"},{"x":49,"X":50,"y":39,"Y":40,"k":"l"},{"x":49,"X":50,"y":64,"Y":65,"k":"l"},{"x":49,"X":50,"y":77,"Y":78,"k":"b"},{"x":49,"X":50,"y":79,"Y":80,"k":"o"},{"x":49,"X":50,"y":97,"Y":98,"k":"b"},{"x":49,"X":50,"y":98,"Y":99,"k":"o"},{"x":49,"X":50,"y":107,"Y":110,"k":"o"},{"x":49,"X":50,"y":127,"Y":128,"k":"o"},{"x":49,"X":50,"y":138,"Y":141,"k":"o"},{"x":49,"X":50,"y":144,"Y":145,"k":"l"},{"x":49,"X":50,"y":174,"Y":176,"k":"o"},{"x":49,"X":50,"y":178,"Y":179,"k":"a"},{"x":49,"X":50,"y":190,"Y":191,"k":"o"},{"x":49,"X":50,"y":198,"Y":199,"k":"o"},{"x":49,"X":50,"y":199,"Y":200,"k":"l"},{"x":49,"X":50,"y":202,"Y":205,"k":"o"},
{"x":56,"X":57,"y":17,"Y":18,"k":"b"},{"x":56,"X":57,"y":32,"Y":33,"k":"l"},{"x":56,"X":57,"y":37,"Y":38,"k":"o"},{"x":56,"X":57,"y":41,"Y":42,"k":"o"},{"x":56,"X":57,"y":45,"Y":46,"k":"o"},{"x":56,"X":57,"y":50,"Y":52,"k":"o"},{"x":56,"X":57,"y":57,"Y":58,"k":"l"},{"x":56,"X":57,"y":77,"Y":78,"k":"o"},{"x":56,"X":57,"y":79,"Y":80,"k":"l"},{"x":56,"X":57,"y":81,"Y":82,"k":"o"},{"x":56,"X":57,"y":87,"Y":88,"k":"l"},{"x":56,"X":57,"y":92,"Y":93,"k":"l"},{"x":56,"X":57,"y":99,"Y":100,"k":"o"},{"x":56,"X":57,"y":109,"Y":110,"k":"l"},{"x":56,"X":57,"y":121,"Y":122,"k":"b"},{"x":56,"X":57,"y":122,"Y":123,"k":"l"},{"x":56,"X":57,"y":127,"Y":128,"k":"o"},{"x":56,"X":57,"y":141,"Y":142,"k":"b"},{"x":56,"X":57,"y":163,"Y":164,"k":"l"},{"x":56,"X":57,"y":174,"Y":175,"k":"o"},{"x":56,"X":57,"y":189,"Y":191,"k":"o"},{"x":56,"X":57,"y":193,"Y":195,"k":"o"},{"x":56,"X":57,"y":202,"Y":203,"k":"b"},{"x":56,"X":57,"y":203,"Y":205,"k":"o"},
{"x":64,"X":65,"y":8,"Y":9,"k":"b"},{"x":64,"X":65,"y":22,"Y":23,"k":"o"},{"x":64,"X":65,"y":35,"Y":42,"k":"o"},{"x":64,"X":65,"y":44,"Y":48,"k":"o"},{"x":64,"X":65,"y":50,"Y":53,"k":"o"},{"x":64,"X":65,"y":59,"Y":70,"k":"o"},{"x":64,"X":65,"y":70,"Y":71,"k":"b"},{"x":64,"X":65,"y":71,"Y":74,"k":"o"},{"x":64,"X":65,"y":75,"Y":77,"k":"o"},{"x":64,"X":65,"y":77,"Y":78,"k":"b"},{"x":64,"X":65,"y":78,"Y":79,"k":"o"},{"x":64,"X":65,"y":80,"Y":81,"k":"o"},{"x":64,"X":65,"y":82,"Y":88,"k":"o"},{"x":64,"X":65,"y":89,"Y":95,"k":"o"},{"x":64,"X":65,"y":95,"Y":98,"k":"o"},{"x":64,"X":65,"y":99,"Y":109,"k":"o"},{"x":64,"X":65,"y":110,"Y":111,"k":"o"},{"x":64,"X":65,"y":112,"Y":121,"k":"o"},{"x":64,"X":65,"y":123,"Y":124,"k":"o"},{"x":64,"X":65,"y":127,"Y":129,"k":"o"},{"x":64,"X":65,"y":136,"Y":137,"k":"o"},{"x":64,"X":65,"y":138,"Y":143,"k":"o"},{"x":64,"X":65,"y":147,"Y":148,"k":"b"},{"x":64,"X":65,"y":149,"Y":163,"k":"o"},{"x":64,"X":65,"y":170,"Y":171,"k":"b"},{"x":64,"X":65,"y":172,"Y":173,"k":"o"},{"x":64,"X":65,"y":173,"Y":174,"k":"a"},{"x":64,"X":65,"y":174,"Y":175,"k":"o"},{"x":64,"X":65,"y":176,"Y":177,"k":"o"},{"x":64,"X":65,"y":181,"Y":182,"k":"a"},{"x":64,"X":65,"y":183,"Y":186,"k":"o"},{"x":64,"X":65,"y":186,"Y":188,"k":"b"},{"x":64,"X":65,"y":189,"Y":205,"k":"o"},
{"x":168,"X":169,"y":8,"Y":9,"k":"b"},{"x":168,"X":169,"y":22,"Y":23,"k":"o"},{"x":168,"X":169,"y":35,"Y":42,"k":"o"},{"x":168,"X":169,"y":44,"Y":48,"k":"o"},{"x":168,"X":169,"y":50,"Y":53,"k":"o"},{"x":168,"X":169,"y":59,"Y":70,"k":"o"},{"x":168,"X":169,"y":70,"Y":71,"k":"b"},{"x":168,"X":169,"y":71,"Y":74,"k":"o"},{"x":168,"X":169,"y":75,"Y":77,"k":"o"},{"x":168,"X":169,"y":77,"Y":78,"k":"b"},{"x":168,"X":169,"y":78,"Y":79,"k":"o"},{"x":168,"X":169,"y":80,"Y":81,"k":"o"},{"x":168,"X":169,"y":82,"Y":88,"k":"o"},{"x":168,"X":169,"y":89,"Y":95,"k":"o"},{"x":168,"X":169,"y":95,"Y":98,"k":"o"},{"x":168,"X":169,"y":99,"Y":109,"k":"o"},{"x":168,"X":169,"y":110,"Y":111,"k":"o"},{"x":168,"X":169,"y":112,"Y":121,"k":"o"},{"x":168,"X":169,"y":123,"Y":124,"k":"o"},{"x":168,"X":169,"y":127,"Y":129,"k":"o"},{"x":168,"X":169,"y":136,"Y":137,"k":"o"},{"x":168,"X":169,"y":138,"Y":143,"k":"o"},{"x":168,"X":169,"y":147,"Y":148,"k":"b"},{"x":168,"X":169,"y":149,"Y":163,"k":"o"},{"x":168,"X":169,"y":170,"Y":171,"k":"b"},{"x":168,"X":169,"y":172,"Y":175,"k":"o"},{"x":168,"X":169,"y":176,"Y":177,"k":"o"},{"x":168,"X":169,"y":181,"Y":182,"k":"o"},{"x":168,"X":169,"y":183,"Y":186,"k":"o"},{"x":168,"X":169,"y":186,"Y":188,"k":"b"},{"x":168,"X":169,"y":189,"Y":205,"k":"o"},
{"x":70,"X":71,"y":3,"Y":4,"k":"b"},{"x":70,"X":71,"y":5,"Y":6,"k":"l"},{"x":69,"X":70,"y":20,"Y":21,"k":"b"},{"x":70,"X":71,"y":23,"Y":27,"k":"o"},{"x":69,"X":70,"y":27,"Y":32,"k":"o"},{"x":70,"X":71,"y":34,"Y":35,"k":"l"},{"x":69,"X":70,"y":35,"Y":37,"k":"o"},{"x":70,"X":71,"y":47,"Y":48,"k":"l"},{"x":70,"X":71,"y":52,"Y":53,"k":"l"},{"x":70,"X":71,"y":54,"Y":55,"k":"o"},{"x":70,"X":71,"y":57,"Y":59,"k":"o"},{"x":70,"X":71,"y":65,"Y":68,"k":"l"},{"x":70,"X":71,"y":69,"Y":71,"k":"l"},{"x":70,"X":71,"y":74,"Y":75,"k":"o"},{"x":70,"X":71,"y":78,"Y":79,"k":"l"},{"x":69,"X":70,"y":79,"Y":80,"k":"b"},{"x":70,"X":71,"y":86,"Y":87,"k":"l"},{"x":70,"X":71,"y":88,"Y":89,"k":"l"},{"x":70,"X":71,"y":90,"Y":92,"k":"l"},{"x":70,"X":71,"y":93,"Y":94,"k":"l"},{"x":70,"X":71,"y":94,"Y":95,"k":"o"},{"x":70,"X":71,"y":101,"Y":102,"k":"o"},{"x":70,"X":71,"y":103,"Y":104,"k":"o"},{"x":69,"X":70,"y":109,"Y":110,"k":"o"},{"x":70,"X":71,"y":112,"Y":113,"k":"l"},{"x":70,"X":71,"y":117,"Y":118,"k":"l"},{"x":70,"X":71,"y":121,"Y":122,"k":"o"},{"x":69,"X":70,"y":122,"Y":123,"k":"o"},{"x":70,"X":71,"y":140,"Y":141,"k":"l"},{"x":70,"X":71,"y":141,"Y":142,"k":"o"},{"x":70,"X":71,"y":156,"Y":157,"k":"o"},{"x":70,"X":71,"y":159,"Y":160,"k":"o"},{"x":70,"X":71,"y":161,"Y":162,"k":"o"},{"x":70,"X":71,"y":163,"Y":164,"k":"l"},{"x":70,"X":71,"y":173,"Y":174,"k":"l"},{"x":70,"X":71,"y":174,"Y":175,"k":"o"},{"x":70,"X":71,"y":177,"Y":179,"k":"l"},{"x":69,"X":70,"y":180,"Y":181,"k":"o"},{"x":70,"X":71,"y":180,"Y":182,"k":"l"},{"x":70,"X":71,"y":184,"Y":185,"k":"l"},{"x":70,"X":71,"y":190,"Y":191,"k":"o"},{"x":70,"X":71,"y":199,"Y":200,"k":"o"},{"x":70,"X":71,"y":202,"Y":205,"k":"o"},
{"x":157,"X":158,"y":3,"Y":4,"k":"b"},{"x":157,"X":158,"y":23,"Y":27,"k":"o"},{"x":157,"X":158,"y":54,"Y":55,"k":"a"},{"x":157,"X":158,"y":57,"Y":59,"k":"o"},{"x":157,"X":158,"y":74,"Y":75,"k":"o"},{"x":157,"X":158,"y":94,"Y":95,"k":"o"},{"x":157,"X":158,"y":101,"Y":102,"k":"o"},{"x":157,"X":158,"y":103,"Y":104,"k":"o"},{"x":157,"X":158,"y":121,"Y":122,"k":"o"},{"x":157,"X":158,"y":141,"Y":142,"k":"o"},{"x":157,"X":158,"y":156,"Y":157,"k":"o"},{"x":157,"X":158,"y":159,"Y":160,"k":"o"},{"x":157,"X":158,"y":161,"Y":162,"k":"o"},{"x":157,"X":158,"y":174,"Y":175,"k":"o"},{"x":157,"X":158,"y":190,"Y":191,"k":"o"},{"x":157,"X":158,"y":199,"Y":200,"k":"o"},{"x":157,"X":158,"y":202,"Y":205,"k":"o"},
{"x":162,"X":163,"y":15,"Y":16,"k":"l"},{"x":162,"X":163,"y":19,"Y":20,"k":"l"},{"x":162,"X":163,"y":20,"Y":21,"k":"b"},{"x":162,"X":163,"y":27,"Y":32,"k":"o"},{"x":162,"X":163,"y":34,"Y":35,"k":"l"},{"x":162,"X":163,"y":35,"Y":37,"k":"o"},{"x":162,"X":163,"y":41,"Y":42,"k":"l"},{"x":162,"X":163,"y":45,"Y":46,"k":"l"},{"x":162,"X":163,"y":50,"Y":52,"k":"l"},{"x":162,"X":163,"y":79,"Y":80,"k":"b"},{"x":162,"X":163,"y":81,"Y":82,"k":"l"},{"x":162,"X":163,"y":109,"Y":110,"k":"o"},{"x":162,"X":163,"y":122,"Y":123,"k":"o"},{"x":162,"X":163,"y":175,"Y":176,"k":"l"},{"x":162,"X":163,"y":180,"Y":181,"k":"o"},
{"x":174,"X":175,"y":17,"Y":18,"k":"b"},{"x":174,"X":175,"y":37,"Y":38,"k":"o"},{"x":174,"X":175,"y":41,"Y":42,"k":"o"},{"x":174,"X":175,"y":45,"Y":46,"k":"o"},{"x":174,"X":175,"y":50,"Y":52,"k":"o"},{"x":174,"X":175,"y":77,"Y":78,"k":"o"},{"x":174,"X":175,"y":81,"Y":82,"k":"o"},{"x":174,"X":175,"y":99,"Y":100,"k":"o"},{"x":174,"X":175,"y":121,"Y":122,"k":"b"},{"x":174,"X":175,"y":127,"Y":128,"k":"o"},{"x":174,"X":175,"y":141,"Y":142,"k":"b"},{"x":174,"X":175,"y":174,"Y":175,"k":"o"},{"x":174,"X":175,"y":189,"Y":191,"k":"o"},{"x":174,"X":175,"y":193,"Y":195,"k":"o"},{"x":174,"X":175,"y":202,"Y":203,"k":"b"},{"x":174,"X":175,"y":203,"Y":205,"k":"o"},
{"x":176,"X":177,"y":4,"Y":5,"k":"b"},{"x":176,"X":177,"y":6,"Y":7,"k":"b"},{"x":176,"X":177,"y":10,"Y":11,"k":"b"},{"x":176,"X":177,"y":77,"Y":78,"k":"b"},{"x":176,"X":177,"y":79,"Y":80,"k":"o"},{"x":176,"X":177,"y":97,"Y":98,"k":"b"},{"x":176,"X":177,"y":98,"Y":99,"k":"a"},{"x":176,"X":177,"y":107,"Y":110,"k":"o"},{"x":176,"X":177,"y":119,"Y":123,"k":"o"},{"x":176,"X":177,"y":127,"Y":128,"k":"o"},{"x":176,"X":177,"y":138,"Y":141,"k":"o"},{"x":176,"X":177,"y":174,"Y":176,"k":"o"},{"x":176,"X":177,"y":178,"Y":179,"k":"o"},{"x":176,"X":177,"y":190,"Y":191,"k":"o"},{"x":176,"X":177,"y":198,"Y":199,"k":"o"},{"x":176,"X":177,"y":202,"Y":205,"k":"o"},
{"x":182,"X":183,"y":0,"Y":1,"k":"b"},{"x":181,"X":183,"y":1,"Y":3,"k":"b"},{"x":182,"X":183,"y":4,"Y":8,"k":"b"},{"x":182,"X":183,"y":9,"Y":12,"k":"b"},{"x":181,"X":183,"y":12,"Y":13,"k":"b"},{"x":182,"X":183,"y":14,"Y":19,"k":"b"},{"x":181,"X":183,"y":19,"Y":20,"k":"b"},{"x":182,"X":183,"y":20,"Y":22,"k":"b"},{"x":182,"X":183,"y":23,"Y":32,"k":"b"},{"x":182,"X":183,"y":38,"Y":39,"k":"o"},{"x":182,"X":183,"y":41,"Y":42,"k":"b"},{"x":181,"X":183,"y":43,"Y":44,"k":"b"},{"x":182,"X":183,"y":45,"Y":46,"k":"b"},{"x":181,"X":182,"y":48,"Y":50,"k":"o"},{"x":182,"X":183,"y":50,"Y":52,"k":"b"},{"x":181,"X":182,"y":53,"Y":54,"k":"o"},{"x":182,"X":183,"y":54,"Y":55,"k":"b"},{"x":182,"X":183,"y":55,"Y":56,"k":"a"},{"x":182,"X":183,"y":62,"Y":63,"k":"a"},{"x":182,"X":183,"y":64,"Y":65,"k":"o"},{"x":182,"X":183,"y":74,"Y":75,"k":"b"},{"x":182,"X":183,"y":77,"Y":78,"k":"o"},{"x":182,"X":183,"y":86,"Y":87,"k":"o"},{"x":182,"X":183,"y":92,"Y":93,"k":"b"},{"x":182,"X":183,"y":97,"Y":101,"k":"o"},{"x":181,"X":182,"y":99,"Y":100,"k":"o"},{"x":182,"X":183,"y":107,"Y":109,"k":"o"},{"x":182,"X":183,"y":119,"Y":121,"k":"o"},{"x":181,"X":182,"y":120,"Y":121,"k":"o"},{"x":181,"X":182,"y":123,"Y":124,"k":"o"},{"x":182,"X":183,"y":123,"Y":124,"k":"b"},{"x":182,"X":183,"y":124,"Y":127,"k":"o"},{"x":181,"X":182,"y":125,"Y":126,"k":"o"},{"x":181,"X":183,"y":127,"Y":128,"k":"o"},{"x":181,"X":182,"y":128,"Y":129,"k":"o"},{"x":182,"X":183,"y":128,"Y":129,"k":"b"},{"x":182,"X":183,"y":129,"Y":136,"k":"o"},{"x":181,"X":182,"y":136,"Y":137,"k":"o"},{"x":182,"X":183,"y":136,"Y":137,"k":"b"},{"x":182,"X":183,"y":137,"Y":138,"k":"a"},{"x":182,"X":183,"y":138,"Y":141,"k":"o"},{"x":181,"X":182,"y":141,"Y":142,"k":"o"},{"x":182,"X":183,"y":142,"Y":143,"k":"b"},{"x":182,"X":183,"y":143,"Y":147,"k":"o"},{"x":182,"X":183,"y":147,"Y":148,"k":"b"},{"x":182,"X":183,"y":148,"Y":150,"k":"o"},{"x":181,"X":182,"y":161,"Y":162,"k":"o"},{"x":182,"X":183,"y":162,"Y":165,"k":"o"},{"x":182,"X":183,"y":166,"Y":170,"k":"o"},{"x":181,"X":182,"y":168,"Y":169,"k":"o"},{"x":182,"X":183,"y":170,"Y":171,"k":"a"},{"x":182,"X":183,"y":171,"Y":173,"k":"o"},{"x":182,"X":183,"y":173,"Y":174,"k":"b"},{"x":182,"X":183,"y":174,"Y":175,"k":"o"},{"x":182,"X":183,"y":177,"Y":180,"k":"o"},{"x":181,"X":183,"y":180,"Y":181,"k":"a"},{"x":182,"X":183,"y":181,"Y":182,"k":"b"},{"x":182,"X":183,"y":185,"Y":188,"k":"b"},{"x":182,"X":183,"y":188,"Y":189,"k":"o"},{"x":181,"X":183,"y":189,"Y":190,"k":"o"},{"x":182,"X":183,"y":190,"Y":191,"k":"o"},{"x":182,"X":183,"y":192,"Y":193,"k":"o"},{"x":181,"X":183,"y":193,"Y":195,"k":"o"},{"x":182,"X":183,"y":198,"Y":199,"k":"o"},{"x":182,"X":183,"y":202,"Y":203,"k":"o"},
{"x":187,"X":188,"y":0,"Y":22,"k":"l"},{"x":187,"X":188,"y":23,"Y":32,"k":"l"},{"x":187,"X":188,"y":32,"Y":33,"k":"o"},{"x":187,"X":188,"y":33,"Y":34,"k":"l"},{"x":187,"X":188,"y":35,"Y":37,"k":"l"},{"x":187,"X":188,"y":41,"Y":42,"k":"l"},{"x":187,"X":188,"y":42,"Y":43,"k":"o"},{"x":187,"X":188,"y":43,"Y":44,"k":"l"},{"x":187,"X":188,"y":44,"Y":45,"k":"o"},{"x":187,"X":188,"y":45,"Y":46,"k":"l"},{"x":187,"X":188,"y":46,"Y":48,"k":"o"},{"x":187,"X":188,"y":50,"Y":52,"k":"l"},{"x":187,"X":188,"y":52,"Y":53,"k":"o"},{"x":187,"X":188,"y":54,"Y":57,"k":"l"},{"x":187,"X":188,"y":57,"Y":58,"k":"o"},{"x":187,"X":188,"y":58,"Y":59,"k":"l"},{"x":187,"X":188,"y":59,"Y":60,"k":"o"},{"x":187,"X":188,"y":68,"Y":69,"k":"l"},{"x":187,"X":188,"y":72,"Y":74,"k":"o"},{"x":187,"X":188,"y":74,"Y":75,"k":"l"},{"x":187,"X":188,"y":75,"Y":77,"k":"o"},{"x":187,"X":188,"y":77,"Y":78,"k":"l"},{"x":187,"X":188,"y":79,"Y":80,"k":"l"},{"x":187,"X":188,"y":80,"Y":81,"k":"o"},{"x":187,"X":188,"y":81,"Y":82,"k":"l"},{"x":187,"X":188,"y":89,"Y":90,"k":"l"},{"x":187,"X":188,"y":92,"Y":93,"k":"l"},{"x":187,"X":188,"y":94,"Y":95,"k":"l"},{"x":187,"X":188,"y":96,"Y":98,"k":"o"},{"x":187,"X":188,"y":98,"Y":99,"k":"l"},{"x":187,"X":188,"y":104,"Y":105,"k":"l"},{"x":187,"X":188,"y":107,"Y":111,"k":"o"},{"x":187,"X":188,"y":111,"Y":112,"k":"l"},{"x":187,"X":188,"y":116,"Y":117,"k":"a"},{"x":187,"X":188,"y":117,"Y":118,"k":"l"},{"x":187,"X":188,"y":119,"Y":121,"k":"o"},{"x":187,"X":188,"y":122,"Y":123,"k":"o"},{"x":187,"X":188,"y":123,"Y":124,"k":"a"},{"x":187,"X":188,"y":124,"Y":127,"k":"o"},{"x":187,"X":188,"y":128,"Y":129,"k":"a"},{"x":187,"X":188,"y":129,"Y":136,"k":"o"},{"x":187,"X":188,"y":136,"Y":138,"k":"a"},{"x":187,"X":188,"y":138,"Y":141,"k":"o"},{"x":187,"X":188,"y":142,"Y":145,"k":"l"},{"x":187,"X":188,"y":145,"Y":147,"k":"o"},{"x":187,"X":188,"y":147,"Y":148,"k":"l"},{"x":187,"X":188,"y":148,"Y":149,"k":"o"},{"x":187,"X":188,"y":162,"Y":163,"k":"l"},{"x":187,"X":188,"y":163,"Y":165,"k":"o"},{"x":187,"X":188,"y":165,"Y":166,"k":"l"},{"x":187,"X":188,"y":166,"Y":170,"k":"o"},{"x":187,"X":188,"y":170,"Y":171,"k":"a"},{"x":187,"X":188,"y":171,"Y":173,"k":"o"},{"x":187,"X":188,"y":173,"Y":175,"k":"l"},{"x":187,"X":188,"y":175,"Y":176,"k":"o"},{"x":187,"X":188,"y":177,"Y":178,"k":"o"},{"x":187,"X":188,"y":178,"Y":179,"k":"l"},{"x":187,"X":188,"y":179,"Y":180,"k":"o"},{"x":187,"X":188,"y":180,"Y":181,"k":"a"},{"x":187,"X":188,"y":181,"Y":182,"k":"l"},{"x":187,"X":188,"y":185,"Y":188,"k":"l"},{"x":187,"X":188,"y":188,"Y":191,"k":"o"},{"x":187,"X":188,"y":191,"Y":192,"k":"l"},{"x":187,"X":188,"y":193,"Y":195,"k":"o"},{"x":187,"X":188,"y":198,"Y":199,"k":"o"},{"x":187,"X":188,"y":202,"Y":203,"k":"o"},
{"x":190,"X":191,"y":17,"Y":18,"k":"b"},{"x":190,"X":191,"y":23,"Y":24,"k":"b"},{"x":190,"X":191,"y":32,"Y":33,"k":"l"},{"x":190,"X":191,"y":34,"Y":35,"k":"l"},{"x":190,"X":191,"y":40,"Y":41,"k":"l"},{"x":190,"X":191,"y":43,"Y":44,"k":"o"},{"x":190,"X":191,"y":48,"Y":50,"k":"l"},{"x":190,"X":191,"y":53,"Y":54,"k":"l"},{"x":190,"X":191,"y":57,"Y":58,"k":"l"},{"x":190,"X":191,"y":59,"Y":60,"k":"l"},{"x":190,"X":191,"y":71,"Y":72,"k":"l"},{"x":190,"X":191,"y":75,"Y":78,"k":"l"},{"x":190,"X":191,"y":80,"Y":81,"k":"l"},{"x":190,"X":191,"y":81,"Y":82,"k":"b"},{"x":190,"X":191,"y":95,"Y":96,"k":"l"},{"x":190,"X":191,"y":96,"Y":97,"k":"o"},{"x":190,"X":191,"y":99,"Y":100,"k":"l"},{"x":190,"X":191,"y":107,"Y":109,"k":"o"},{"x":190,"X":191,"y":109,"Y":110,"k":"b"},{"x":190,"X":191,"y":110,"Y":111,"k":"o"},{"x":190,"X":191,"y":113,"Y":114,"k":"o"},{"x":190,"X":191,"y":116,"Y":117,"k":"a"},{"x":190,"X":191,"y":119,"Y":121,"k":"o"},{"x":190,"X":191,"y":121,"Y":122,"k":"l"},{"x":190,"X":191,"y":122,"Y":123,"k":"b"},{"x":190,"X":191,"y":123,"Y":124,"k":"a"},{"x":190,"X":191,"y":124,"Y":125,"k":"o"},{"x":190,"X":191,"y":126,"Y":127,"k":"o"},{"x":190,"X":191,"y":127,"Y":128,"k":"l"},{"x":190,"X":191,"y":128,"Y":129,"k":"a"},{"x":190,"X":191,"y":129,"Y":136,"k":"o"},{"x":190,"X":191,"y":136,"Y":138,"k":"a"},{"x":190,"X":191,"y":138,"Y":141,"k":"o"},{"x":190,"X":191,"y":141,"Y":142,"k":"l"},{"x":190,"X":191,"y":142,"Y":145,"k":"a"},{"x":190,"X":191,"y":145,"Y":147,"k":"o"},{"x":190,"X":191,"y":147,"Y":148,"k":"a"},{"x":190,"X":191,"y":148,"Y":149,"k":"o"},{"x":190,"X":191,"y":153,"Y":154,"k":"l"},{"x":190,"X":191,"y":161,"Y":162,"k":"l"},{"x":190,"X":191,"y":162,"Y":163,"k":"a"},{"x":190,"X":191,"y":163,"Y":165,"k":"o"},{"x":190,"X":191,"y":166,"Y":168,"k":"o"},{"x":190,"X":191,"y":169,"Y":170,"k":"o"},{"x":190,"X":191,"y":170,"Y":171,"k":"a"},{"x":190,"X":191,"y":171,"Y":173,"k":"o"},{"x":190,"X":191,"y":173,"Y":174,"k":"a"},{"x":190,"X":191,"y":174,"Y":175,"k":"l"},{"x":190,"X":191,"y":176,"Y":177,"k":"o"},{"x":190,"X":191,"y":177,"Y":182,"k":"a"},{"x":190,"X":191,"y":185,"Y":188,"k":"a"},{"x":190,"X":191,"y":188,"Y":191,"k":"o"},{"x":190,"X":191,"y":193,"Y":195,"k":"o"},{"x":190,"X":191,"y":198,"Y":199,"k":"o"},{"x":190,"X":191,"y":202,"Y":203,"k":"o"},{"x":190,"X":191,"y":203,"Y":205,"k":"l"},
{"x":192,"X":193,"y":31,"Y":32,"k":"b"},{"x":192,"X":193,"y":71,"Y":72,"k":"o"},{"x":192,"X":193,"y":76,"Y":77,"k":"o"},{"x":192,"X":193,"y":140,"Y":141,"k":"o"},{"x":192,"X":193,"y":142,"Y":145,"k":"a"},{"x":192,"X":193,"y":145,"Y":146,"k":"o"},{"x":192,"X":193,"y":147,"Y":149,"k":"a"},{"x":192,"X":193,"y":150,"Y":151,"k":"o"},{"x":192,"X":193,"y":159,"Y":160,"k":"o"},{"x":192,"X":193,"y":162,"Y":164,"k":"a"},{"x":192,"X":193,"y":164,"Y":165,"k":"o"},{"x":192,"X":193,"y":165,"Y":166,"k":"a"},{"x":192,"X":193,"y":167,"Y":168,"k":"o"},{"x":192,"X":193,"y":173,"Y":174,"k":"a"},{"x":192,"X":193,"y":177,"Y":180,"k":"a"},{"x":192,"X":193,"y":181,"Y":182,"k":"a"},{"x":192,"X":193,"y":182,"Y":183,"k":"o"},{"x":192,"X":193,"y":185,"Y":188,"k":"a"},{"x":192,"X":193,"y":188,"Y":189,"k":"o"},
{"x":194,"X":195,"y":3,"Y":4,"k":"b"},{"x":194,"X":195,"y":42,"Y":43,"k":"o"},{"x":194,"X":195,"y":44,"Y":45,"k":"b"},{"x":194,"X":195,"y":46,"Y":48,"k":"b"},{"x":194,"X":195,"y":48,"Y":50,"k":"o"},{"x":194,"X":195,"y":52,"Y":53,"k":"b"},{"x":194,"X":195,"y":53,"Y":54,"k":"o"},{"x":194,"X":195,"y":71,"Y":74,"k":"o"},{"x":194,"X":195,"y":75,"Y":77,"k":"o"},{"x":194,"X":195,"y":80,"Y":81,"k":"o"},{"x":194,"X":195,"y":91,"Y":92,"k":"b"},{"x":194,"X":195,"y":110,"Y":111,"k":"b"},{"x":194,"X":195,"y":116,"Y":117,"k":"a"},{"x":194,"X":195,"y":123,"Y":124,"k":"a"},{"x":194,"X":195,"y":124,"Y":127,"k":"a"},{"x":194,"X":195,"y":127,"Y":128,"k":"o"},{"x":194,"X":195,"y":128,"Y":129,"k":"a"},{"x":194,"X":195,"y":133,"Y":134,"k":"b"},{"x":194,"X":195,"y":136,"Y":137,"k":"a"},{"x":194,"X":195,"y":137,"Y":138,"k":"b"},{"x":194,"X":195,"y":142,"Y":145,"k":"a"},{"x":194,"X":195,"y":147,"Y":149,"k":"a"},{"x":194,"X":195,"y":162,"Y":164,"k":"a"},{"x":194,"X":195,"y":164,"Y":165,"k":"o"},{"x":194,"X":195,"y":165,"Y":166,"k":"a"},{"x":194,"X":195,"y":168,"Y":170,"k":"a"},{"x":194,"X":195,"y":170,"Y":171,"k":"o"},{"x":194,"X":195,"y":173,"Y":174,"k":"a"},{"x":194,"X":195,"y":177,"Y":180,"k":"a"},{"x":194,"X":195,"y":181,"Y":182,"k":"a"},{"x":194,"X":195,"y":182,"Y":183,"k":"o"},{"x":194,"X":195,"y":185,"Y":188,"k":"a"},{"x":194,"X":195,"y":188,"Y":189,"k":"o"},{"x":194,"X":195,"y":190,"Y":191,"k":"b"},{"x":194,"X":195,"y":191,"Y":192,"k":"a"},
{"x":198,"X":199,"y":81,"Y":82,"k":"o"},{"x":198,"X":199,"y":94,"Y":95,"k":"b"},{"x":198,"X":199,"y":98,"Y":99,"k":"b"},{"x":198,"X":199,"y":107,"Y":110,"k":"b"},{"x":198,"X":199,"y":119,"Y":121,"k":"b"},{"x":198,"X":199,"y":122,"Y":123,"k":"o"},{"x":198,"X":199,"y":138,"Y":139,"k":"o"},{"x":198,"X":199,"y":139,"Y":141,"k":"b"},{"x":198,"X":199,"y":146,"Y":147,"k":"o"},{"x":198,"X":199,"y":149,"Y":150,"k":"o"},{"x":198,"X":199,"y":156,"Y":158,"k":"o"},{"x":198,"X":199,"y":166,"Y":167,"k":"o"},{"x":198,"X":199,"y":172,"Y":173,"k":"o"},{"x":198,"X":199,"y":182,"Y":183,"k":"o"},{"x":198,"X":199,"y":186,"Y":188,"k":"o"},{"x":198,"X":199,"y":191,"Y":192,"k":"o"},{"x":198,"X":199,"y":198,"Y":199,"k":"o"},{"x":198,"X":199,"y":200,"Y":201,"k":"o"},
{"x":200,"X":201,"y":13,"Y":14,"k":"b"},{"x":200,"X":201,"y":56,"Y":57,"k":"b"},{"x":200,"X":201,"y":87,"Y":88,"k":"l"},{"x":200,"X":201,"y":112,"Y":113,"k":"l"},{"x":200,"X":201,"y":146,"Y":147,"k":"o"},{"x":200,"X":201,"y":156,"Y":158,"k":"o"},{"x":200,"X":201,"y":168,"Y":169,"k":"b"},{"x":200,"X":201,"y":169,"Y":170,"k":"o"},{"x":200,"X":201,"y":182,"Y":183,"k":"o"},
{"x":202,"X":203,"y":11,"Y":12,"k":"l"},{"x":202,"X":203,"y":38,"Y":39,"k":"l"},{"x":202,"X":203,"y":138,"Y":139,"k":"o"},{"x":202,"X":203,"y":150,"Y":151,"k":"o"},{"x":202,"X":203,"y":159,"Y":160,"k":"o"},{"x":202,"X":203,"y":179,"Y":180,"k":"l"},
{"x":12,"X":16,"y":78,"Y":79,"k":"k"},{"x":15,"X":16,"y":109,"Y":110,"k":"k"},{"x":12,"X":13,"y":156,"Y":157,"k":"k"},{"x":14,"X":16,"y":156,"Y":157,"k":"k"},{"x":12,"X":16,"y":158,"Y":159,"k":"k"},{"x":12,"X":16,"y":182,"Y":183,"k":"k"},{"x":12,"X":16,"y":191,"Y":192,"k":"k"},
{"x":17,"X":21,"y":91,"Y":92,"k":"k"},{"x":17,"X":21,"y":105,"Y":106,"k":"k"},{"x":17,"X":21,"y":157,"Y":158,"k":"k"},{"x":17,"X":21,"y":159,"Y":160,"k":"k"},{"x":17,"X":21,"y":204,"Y":205,"k":"k"},
{"x":22,"X":26,"y":85,"Y":86,"k":"k"},{"x":22,"X":26,"y":92,"Y":93,"k":"k"},{"x":22,"X":26,"y":100,"Y":101,"k":"k"},{"x":22,"X":26,"y":102,"Y":103,"k":"k"},{"x":22,"X":26,"y":104,"Y":105,"k":"k"},{"x":22,"X":26,"y":183,"Y":184,"k":"k"},{"x":22,"X":26,"y":203,"Y":204,"k":"k"},
{"x":27,"X":29,"y":33,"Y":35,"k":"k"},{"x":30,"X":32,"y":33,"Y":35,"k":"k"},{"x":27,"X":29,"y":37,"Y":39,"k":"k"},{"x":30,"X":32,"y":37,"Y":39,"k":"k"},{"x":27,"X":29,"y":40,"Y":41,"k":"k"},{"x":30,"X":32,"y":40,"Y":41,"k":"k"},{"x":27,"X":29,"y":63,"Y":64,"k":"k"},{"x":30,"X":32,"y":63,"Y":64,"k":"k"},{"x":27,"X":29,"y":65,"Y":67,"k":"k"},{"x":30,"X":32,"y":65,"Y":67,"k":"k"},{"x":27,"X":29,"y":68,"Y":70,"k":"k"},{"x":30,"X":32,"y":68,"Y":70,"k":"k"},{"x":27,"X":32,"y":71,"Y":72,"k":"k"},{"x":27,"X":29,"y":82,"Y":85,"k":"k"},{"x":30,"X":32,"y":82,"Y":85,"k":"k"},{"x":27,"X":29,"y":89,"Y":91,"k":"k"},{"x":30,"X":32,"y":89,"Y":91,"k":"k"},{"x":27,"X":29,"y":101,"Y":102,"k":"k"},{"x":30,"X":32,"y":101,"Y":102,"k":"k"},{"x":27,"X":29,"y":106,"Y":107,"k":"k"},{"x":30,"X":32,"y":106,"Y":107,"k":"k"},{"x":27,"X":29,"y":114,"Y":116,"k":"k"},{"x":30,"X":32,"y":114,"Y":116,"k":"k"},{"x":27,"X":32,"y":116,"Y":117,"k":"k"},{"x":27,"X":29,"y":117,"Y":119,"k":"k"},{"x":30,"X":32,"y":117,"Y":119,"k":"k"},{"x":27,"X":29,"y":151,"Y":155,"k":"k"},{"x":30,"X":32,"y":151,"Y":155,"k":"k"},{"x":27,"X":29,"y":161,"Y":162,"k":"k"},{"x":30,"X":32,"y":161,"Y":162,"k":"k"},{"x":27,"X":29,"y":174,"Y":175,"k":"k"},{"x":30,"X":32,"y":174,"Y":175,"k":"k"},{"x":27,"X":29,"y":195,"Y":196,"k":"k"},{"x":30,"X":32,"y":195,"Y":196,"k":"k"},{"x":27,"X":29,"y":200,"Y":202,"k":"k"},{"x":30,"X":32,"y":200,"Y":202,"k":"k"},
{"x":33,"X":38,"y":59,"Y":60,"k":"k"},{"x":33,"X":35,"y":70,"Y":71,"k":"k"},{"x":36,"X":38,"y":70,"Y":71,"k":"k"},{"x":33,"X":35,"y":87,"Y":88,"k":"k"},{"x":36,"X":38,"y":87,"Y":88,"k":"k"},{"x":33,"X":35,"y":103,"Y":104,"k":"k"},{"x":36,"X":38,"y":103,"Y":104,"k":"k"},{"x":33,"X":35,"y":113,"Y":114,"k":"k"},{"x":36,"X":38,"y":113,"Y":114,"k":"k"},{"x":33,"X":35,"y":121,"Y":122,"k":"k"},{"x":36,"X":38,"y":121,"Y":122,"k":"k"},{"x":33,"X":35,"y":141,"Y":142,"k":"k"},{"x":36,"X":38,"y":141,"Y":142,"k":"k"},{"x":33,"X":35,"y":155,"Y":156,"k":"k"},{"x":36,"X":38,"y":155,"Y":156,"k":"k"},{"x":33,"X":34,"y":160,"Y":161,"k":"k"},{"x":36,"X":38,"y":160,"Y":161,"k":"k"},{"x":33,"X":35,"y":176,"Y":177,"k":"k"},{"x":36,"X":38,"y":176,"Y":177,"k":"k"},{"x":33,"X":35,"y":184,"Y":185,"k":"k"},{"x":36,"X":38,"y":184,"Y":185,"k":"k"},{"x":33,"X":35,"y":196,"Y":198,"k":"k"},{"x":36,"X":38,"y":196,"Y":198,"k":"k"},{"x":33,"X":35,"y":199,"Y":200,"k":"k"},{"x":36,"X":38,"y":199,"Y":200,"k":"k"},
{"x":39,"X":43,"y":36,"Y":37,"k":"k"},{"x":39,"X":43,"y":39,"Y":40,"k":"k"},{"x":39,"X":43,"y":58,"Y":59,"k":"k"},{"x":39,"X":43,"y":64,"Y":65,"k":"k"},{"x":39,"X":43,"y":86,"Y":87,"k":"k"},{"x":39,"X":43,"y":149,"Y":150,"k":"k"},
{"x":44,"X":49,"y":35,"Y":36,"k":"k"},{"x":44,"X":46,"y":67,"Y":68,"k":"k"},{"x":47,"X":49,"y":67,"Y":68,"k":"k"},{"x":44,"X":46,"y":92,"Y":93,"k":"k"},{"x":47,"X":49,"y":92,"Y":93,"k":"k"},{"x":50,"X":56,"y":61,"Y":63,"k":"k"},{"x":57,"X":64,"y":22,"Y":23,"k":"k"},{"x":65,"X":69,"y":5,"Y":6,"k":"k"},{"x":71,"X":82,"y":79,"Y":80,"k":"k"},
{"x":84,"X":88,"y":12,"Y":13,"k":"k"},{"x":89,"X":92,"y":180,"Y":181,"k":"k"},{"x":93,"X":95,"y":22,"Y":23,"k":"k"},{"x":99,"X":102,"y":22,"Y":23,"k":"k"},{"x":93,"X":95,"y":40,"Y":41,"k":"k"},{"x":99,"X":102,"y":40,"Y":41,"k":"k"},{"x":93,"X":95,"y":61,"Y":62,"k":"k"},{"x":99,"X":102,"y":61,"Y":62,"k":"k"},{"x":93,"X":102,"y":88,"Y":89,"k":"k"},{"x":93,"X":95,"y":149,"Y":150,"k":"k"},{"x":99,"X":102,"y":149,"Y":150,"k":"k"},{"x":93,"X":95,"y":156,"Y":157,"k":"k"},{"x":99,"X":102,"y":156,"Y":157,"k":"k"},{"x":93,"X":95,"y":159,"Y":160,"k":"k"},{"x":99,"X":102,"y":159,"Y":160,"k":"k"},{"x":93,"X":95,"y":184,"Y":185,"k":"k"},{"x":99,"X":102,"y":184,"Y":185,"k":"k"},
{"x":105,"X":110,"y":1,"Y":3,"k":"k"},{"x":105,"X":107,"y":62,"Y":63,"k":"k"},{"x":108,"X":110,"y":62,"Y":63,"k":"k"},{"x":109,"X":110,"y":79,"Y":80,"k":"k"},{"x":105,"X":107,"y":155,"Y":156,"k":"k"},{"x":108,"X":110,"y":155,"Y":156,"k":"k"},{"x":105,"X":107,"y":157,"Y":158,"k":"k"},{"x":108,"X":110,"y":157,"Y":158,"k":"k"},{"x":105,"X":107,"y":162,"Y":163,"k":"k"},{"x":108,"X":110,"y":162,"Y":163,"k":"k"},
{"x":111,"X":112,"y":13,"Y":14,"k":"k"},{"x":115,"X":117,"y":13,"Y":14,"k":"k"},{"x":111,"X":113,"y":37,"Y":38,"k":"k"},{"x":115,"X":117,"y":37,"Y":38,"k":"k"},{"x":111,"X":113,"y":41,"Y":42,"k":"k"},{"x":115,"X":117,"y":41,"Y":42,"k":"k"},{"x":111,"X":113,"y":45,"Y":46,"k":"k"},{"x":115,"X":117,"y":45,"Y":46,"k":"k"},{"x":111,"X":113,"y":69,"Y":70,"k":"k"},{"x":115,"X":117,"y":69,"Y":70,"k":"k"},{"x":111,"X":117,"y":74,"Y":75,"k":"k"},{"x":111,"X":113,"y":92,"Y":93,"k":"k"},{"x":115,"X":117,"y":92,"Y":93,"k":"k"},{"x":111,"X":113,"y":102,"Y":103,"k":"k"},{"x":115,"X":117,"y":102,"Y":103,"k":"k"},{"x":111,"X":113,"y":111,"Y":112,"k":"k"},{"x":115,"X":117,"y":111,"Y":112,"k":"k"},{"x":111,"X":113,"y":113,"Y":114,"k":"k"},{"x":115,"X":117,"y":113,"Y":114,"k":"k"},{"x":111,"X":113,"y":183,"Y":184,"k":"k"},{"x":115,"X":117,"y":183,"Y":184,"k":"k"},{"x":111,"X":113,"y":191,"Y":192,"k":"k"},{"x":115,"X":117,"y":191,"Y":192,"k":"k"},
{"x":118,"X":123,"y":0,"Y":1,"k":"k"},{"x":118,"X":120,"y":9,"Y":12,"k":"k"},{"x":121,"X":123,"y":9,"Y":12,"k":"k"},{"x":118,"X":120,"y":35,"Y":37,"k":"k"},{"x":121,"X":123,"y":35,"Y":37,"k":"k"},{"x":118,"X":120,"y":38,"Y":40,"k":"k"},{"x":121,"X":123,"y":38,"Y":40,"k":"k"},{"x":118,"X":120,"y":43,"Y":44,"k":"k"},{"x":121,"X":123,"y":43,"Y":44,"k":"k"},{"x":118,"X":120,"y":60,"Y":61,"k":"k"},{"x":121,"X":123,"y":60,"Y":61,"k":"k"},{"x":118,"X":120,"y":63,"Y":69,"k":"k"},{"x":121,"X":123,"y":63,"Y":69,"k":"k"},{"x":118,"X":120,"y":70,"Y":71,"k":"k"},{"x":121,"X":123,"y":70,"Y":71,"k":"k"},{"x":118,"X":120,"y":83,"Y":88,"k":"k"},{"x":121,"X":123,"y":83,"Y":88,"k":"k"},{"x":118,"X":120,"y":90,"Y":92,"k":"k"},{"x":121,"X":123,"y":90,"Y":92,"k":"k"},{"x":118,"X":120,"y":93,"Y":94,"k":"k"},{"x":121,"X":123,"y":93,"Y":94,"k":"k"},{"x":118,"X":120,"y":100,"Y":102,"k":"k"},{"x":121,"X":123,"y":100,"Y":102,"k":"k"},{"x":118,"X":120,"y":105,"Y":107,"k":"k"},{"x":121,"X":123,"y":105,"Y":107,"k":"k"},{"x":118,"X":120,"y":112,"Y":113,"k":"k"},{"x":121,"X":123,"y":112,"Y":113,"k":"k"},{"x":118,"X":120,"y":115,"Y":116,"k":"k"},{"x":121,"X":123,"y":115,"Y":116,"k":"k"},{"x":118,"X":120,"y":118,"Y":119,"k":"k"},{"x":121,"X":123,"y":118,"Y":119,"k":"k"},{"x":118,"X":120,"y":124,"Y":126,"k":"k"},{"x":121,"X":123,"y":124,"Y":126,"k":"k"},{"x":118,"X":120,"y":176,"Y":177,"k":"k"},{"x":121,"X":123,"y":176,"Y":177,"k":"k"},{"x":118,"X":120,"y":196,"Y":198,"k":"k"},{"x":121,"X":123,"y":196,"Y":198,"k":"k"},{"x":118,"X":120,"y":199,"Y":200,"k":"k"},{"x":121,"X":123,"y":199,"Y":200,"k":"k"},
{"x":124,"X":126,"y":8,"Y":9,"k":"k"},{"x":132,"X":134,"y":8,"Y":9,"k":"k"},{"x":133,"X":134,"y":56,"Y":57,"k":"k"},{"x":124,"X":134,"y":59,"Y":60,"k":"k"},{"x":124,"X":126,"y":73,"Y":74,"k":"k"},{"x":132,"X":134,"y":73,"Y":74,"k":"k"},{"x":124,"X":126,"y":103,"Y":104,"k":"k"},{"x":132,"X":134,"y":103,"Y":104,"k":"k"},{"x":124,"X":126,"y":126,"Y":127,"k":"k"},{"x":132,"X":134,"y":126,"Y":127,"k":"k"},{"x":124,"X":126,"y":130,"Y":132,"k":"k"},{"x":132,"X":134,"y":130,"Y":132,"k":"k"},{"x":124,"X":126,"y":134,"Y":136,"k":"k"},{"x":132,"X":134,"y":134,"Y":136,"k":"k"},{"x":124,"X":126,"y":143,"Y":145,"k":"k"},{"x":132,"X":134,"y":143,"Y":145,"k":"k"},{"x":124,"X":126,"y":148,"Y":149,"k":"k"},{"x":132,"X":134,"y":148,"Y":149,"k":"k"},{"x":124,"X":126,"y":163,"Y":166,"k":"k"},{"x":132,"X":134,"y":163,"Y":166,"k":"k"},{"x":124,"X":126,"y":167,"Y":168,"k":"k"},{"x":132,"X":134,"y":167,"Y":168,"k":"k"},{"x":124,"X":126,"y":171,"Y":172,"k":"k"},{"x":132,"X":134,"y":171,"Y":172,"k":"k"},{"x":124,"X":126,"y":177,"Y":178,"k":"k"},{"x":132,"X":134,"y":177,"Y":178,"k":"k"},{"x":124,"X":126,"y":188,"Y":189,"k":"k"},{"x":132,"X":134,"y":188,"Y":189,"k":"k"},{"x":124,"X":126,"y":200,"Y":201,"k":"k"},{"x":132,"X":134,"y":200,"Y":201,"k":"k"},{"x":124,"X":126,"y":202,"Y":203,"k":"k"},{"x":132,"X":134,"y":202,"Y":203,"k":"k"},
{"x":135,"X":137,"y":33,"Y":34,"k":"k"},{"x":143,"X":145,"y":33,"Y":34,"k":"k"},{"x":135,"X":137,"y":75,"Y":76,"k":"k"},{"x":143,"X":145,"y":75,"Y":76,"k":"k"},{"x":135,"X":145,"y":78,"Y":79,"k":"k"},{"x":135,"X":145,"y":80,"Y":81,"k":"k"},{"x":135,"X":137,"y":98,"Y":99,"k":"k"},{"x":143,"X":145,"y":98,"Y":99,"k":"k"},{"x":135,"X":137,"y":107,"Y":108,"k":"k"},{"x":143,"X":145,"y":107,"Y":108,"k":"k"},{"x":135,"X":137,"y":137,"Y":138,"k":"k"},{"x":143,"X":145,"y":137,"Y":138,"k":"k"},{"x":135,"X":137,"y":145,"Y":148,"k":"k"},{"x":143,"X":145,"y":145,"Y":148,"k":"k"},{"x":135,"X":137,"y":150,"Y":151,"k":"k"},{"x":143,"X":145,"y":150,"Y":151,"k":"k"},{"x":135,"X":137,"y":169,"Y":170,"k":"k"},{"x":143,"X":145,"y":169,"Y":170,"k":"k"},{"x":135,"X":137,"y":172,"Y":174,"k":"k"},{"x":143,"X":145,"y":172,"Y":174,"k":"k"},{"x":135,"X":137,"y":178,"Y":180,"k":"k"},{"x":143,"X":145,"y":178,"Y":180,"k":"k"},{"x":142,"X":143,"y":179,"Y":180,"k":"k"},{"x":135,"X":137,"y":181,"Y":182,"k":"k"},{"x":143,"X":145,"y":181,"Y":182,"k":"k"},
{"x":146,"X":148,"y":3,"Y":5,"k":"k"},{"x":154,"X":157,"y":3,"Y":5,"k":"k"},{"x":146,"X":148,"y":6,"Y":8,"k":"k"},{"x":154,"X":157,"y":6,"Y":7,"k":"k"},{"x":155,"X":157,"y":7,"Y":8,"k":"k"},{"x":146,"X":147,"y":23,"Y":24,"k":"k"},{"x":155,"X":157,"y":23,"Y":24,"k":"k"},{"x":156,"X":157,"y":24,"Y":26,"k":"k"},{"x":146,"X":151,"y":32,"Y":33,"k":"k"},{"x":152,"X":157,"y":32,"Y":33,"k":"k"},{"x":146,"X":149,"y":34,"Y":35,"k":"k"},{"x":153,"X":157,"y":34,"Y":35,"k":"k"},{"x":146,"X":148,"y":42,"Y":43,"k":"k"},{"x":155,"X":157,"y":42,"Y":43,"k":"k"},{"x":146,"X":157,"y":57,"Y":58,"k":"k"},{"x":146,"X":148,"y":58,"Y":59,"k":"k"},{"x":155,"X":157,"y":58,"Y":59,"k":"k"},{"x":146,"X":150,"y":81,"Y":82,"k":"k"},{"x":152,"X":157,"y":81,"Y":82,"k":"k"},{"x":146,"X":148,"y":89,"Y":90,"k":"k"},{"x":155,"X":157,"y":89,"Y":90,"k":"k"},{"x":146,"X":148,"y":95,"Y":96,"k":"k"},{"x":155,"X":157,"y":95,"Y":96,"k":"k"},{"x":146,"X":148,"y":104,"Y":105,"k":"k"},{"x":155,"X":157,"y":104,"Y":105,"k":"k"},{"x":146,"X":148,"y":117,"Y":118,"k":"k"},{"x":155,"X":157,"y":117,"Y":118,"k":"k"},{"x":146,"X":148,"y":129,"Y":130,"k":"k"},{"x":155,"X":157,"y":129,"Y":130,"k":"k"},{"x":146,"X":148,"y":132,"Y":134,"k":"k"},{"x":155,"X":157,"y":132,"Y":134,"k":"k"},{"x":146,"X":148,"y":142,"Y":143,"k":"k"},{"x":155,"X":157,"y":142,"Y":143,"k":"k"},{"x":146,"X":148,"y":154,"Y":155,"k":"k"},{"x":155,"X":157,"y":154,"Y":155,"k":"k"},{"x":146,"X":148,"y":160,"Y":161,"k":"k"},{"x":155,"X":157,"y":160,"Y":161,"k":"k"},{"x":146,"X":148,"y":166,"Y":167,"k":"k"},{"x":155,"X":157,"y":166,"Y":167,"k":"k"},{"x":146,"X":148,"y":168,"Y":169,"k":"k"},{"x":155,"X":157,"y":168,"Y":169,"k":"k"},{"x":146,"X":148,"y":170,"Y":171,"k":"k"},{"x":155,"X":157,"y":170,"Y":171,"k":"k"},{"x":146,"X":149,"y":175,"Y":176,"k":"k"},{"x":153,"X":157,"y":175,"Y":176,"k":"k"},{"x":146,"X":148,"y":182,"Y":183,"k":"k"},{"x":155,"X":157,"y":182,"Y":183,"k":"k"},{"x":146,"X":148,"y":185,"Y":188,"k":"k"},{"x":154,"X":157,"y":185,"Y":188,"k":"k"},{"x":146,"X":148,"y":192,"Y":193,"k":"k"},{"x":155,"X":157,"y":192,"Y":193,"k":"k"},
{"x":158,"X":162,"y":44,"Y":45,"k":"k"},{"x":158,"X":162,"y":46,"Y":48,"k":"k"},{"x":158,"X":162,"y":72,"Y":73,"k":"k"},{"x":158,"X":162,"y":82,"Y":83,"k":"k"},{"x":158,"X":162,"y":97,"Y":98,"k":"k"},{"x":158,"X":162,"y":108,"Y":110,"k":"k"},{"x":158,"X":162,"y":114,"Y":115,"k":"k"},{"x":158,"X":162,"y":122,"Y":123,"k":"k"},{"x":158,"X":162,"y":138,"Y":139,"k":"k"},{"x":158,"X":162,"y":158,"Y":159,"k":"k"},{"x":161,"X":162,"y":182,"Y":183,"k":"k"},{"x":158,"X":162,"y":195,"Y":197,"k":"k"},
{"x":163,"X":168,"y":94,"Y":95,"k":"k"},{"x":163,"X":165,"y":96,"Y":97,"k":"k"},{"x":166,"X":168,"y":96,"Y":97,"k":"k"},{"x":163,"X":165,"y":110,"Y":111,"k":"k"},{"x":166,"X":168,"y":110,"Y":111,"k":"k"},{"x":163,"X":165,"y":119,"Y":121,"k":"k"},{"x":166,"X":168,"y":119,"Y":121,"k":"k"},{"x":163,"X":164,"y":121,"Y":122,"k":"k"},{"x":167,"X":168,"y":121,"Y":122,"k":"k"},{"x":163,"X":165,"y":139,"Y":141,"k":"k"},{"x":166,"X":168,"y":139,"Y":141,"k":"k"},{"x":163,"X":165,"y":198,"Y":199,"k":"k"},{"x":166,"X":168,"y":198,"Y":199,"k":"k"},{"x":163,"X":164,"y":203,"Y":205,"k":"k"},{"x":167,"X":168,"y":203,"Y":205,"k":"k"},
{"x":169,"X":174,"y":201,"Y":202,"k":"k"},{"x":175,"X":176,"y":5,"Y":6,"k":"k"},{"x":175,"X":176,"y":32,"Y":33,"k":"k"},{"x":177,"X":181,"y":58,"Y":59,"k":"k"},{"x":180,"X":181,"y":71,"Y":72,"k":"k"},{"x":180,"X":181,"y":76,"Y":77,"k":"k"},{"x":180,"X":181,"y":141,"Y":142,"k":"k"},{"x":180,"X":181,"y":161,"Y":162,"k":"k"},{"x":189,"X":190,"y":48,"Y":49,"k":"k"},{"x":193,"X":194,"y":49,"Y":50,"k":"k"},{"x":193,"X":194,"y":53,"Y":54,"k":"k"},{"x":195,"X":196,"y":77,"Y":78,"k":"k"},{"x":197,"X":198,"y":77,"Y":78,"k":"k"},{"x":191,"X":192,"y":99,"Y":100,"k":"k"},{"x":199,"X":200,"y":102,"Y":103,"k":"k"},{"x":199,"X":200,"y":113,"Y":114,"k":"k"},{"x":195,"X":198,"y":116,"Y":117,"k":"k"},{"x":195,"X":198,"y":123,"Y":124,"k":"k"},{"x":195,"X":198,"y":128,"Y":129,"k":"k"},{"x":195,"X":198,"y":136,"Y":137,"k":"k"},{"x":189,"X":190,"y":127,"Y":128,"k":"k"},{"x":203,"X":204,"y":155,"Y":156,"k":"k"},{"x":201,"X":202,"y":158,"Y":159,"k":"k"},{"x":199,"X":200,"y":160,"Y":161,"k":"k"},{"x":188,"X":190,"y":174,"Y":175,"k":"k"},{"x":199,"X":200,"y":183,"Y":184,"k":"k"},{"x":203,"X":204,"y":184,"Y":185,"k":"k"}
]},
"encoding":{},
"layer":[
{"data":{"name":"cells"},"mark":{"type":"rect","xOffset":3.5,"x2Offset":3.5,"stroke":null},"encoding":{
"x":{"field":"x","type":"quantitative","scale":{"domain":[0,214.5],"nice":false,"zero":false},"axis":{"orient":"top","values":[0,20,40,60,80,100,120,140,160,180,200],"grid":true,"gridColor":"#e6e6e6","gridWidth":1.4,"ticks":false,"domain":false,"title":null,"labelAlign":"left","labelBaseline":"top","labelPadding":-1,"labelOffset":6,"labelColor":"#dedede","labelFont":"Liberation Sans","labelFontSize":18,"labelFlush":false,"labelOverlap":false,"zindex":0}},
"x2":{"field":"X"},
"y":{"field":"y","type":"quantitative","scale":{"domain":[-86.96,205.9],"reverse":true,"nice":false,"zero":false},"axis":null},
"y2":{"field":"Y"},
"color":{"field":"k","type":"nominal","legend":null,"scale":{"domain":["a","g","k","o","b","l"],"range":["#a9a9a9","#00a651","#231f20","#f15a24","#0072bc","#00b5f1"]}}}},
{"data":{"name":"arcs"},"mark":{"type":"arc","filled":false,"strokeWidth":4.4,"theta":-1.5708,"theta2":1.5708},"encoding":{
"x":{"field":"m","type":"quantitative"},
"y":{"field":"y","type":"quantitative"},
"radius":{"field":"r","type":"quantitative","scale":{"type":"linear","domain":[0,100],"range":[0,740]}},
"radius2":{"field":"r"},
"stroke":{"field":"t","type":"nominal","legend":null,"scale":{"domain":["d","m","l","p"],"range":["#2166ac","#4393c3","#92c5de","#fddbc7"]}}}}
]}
